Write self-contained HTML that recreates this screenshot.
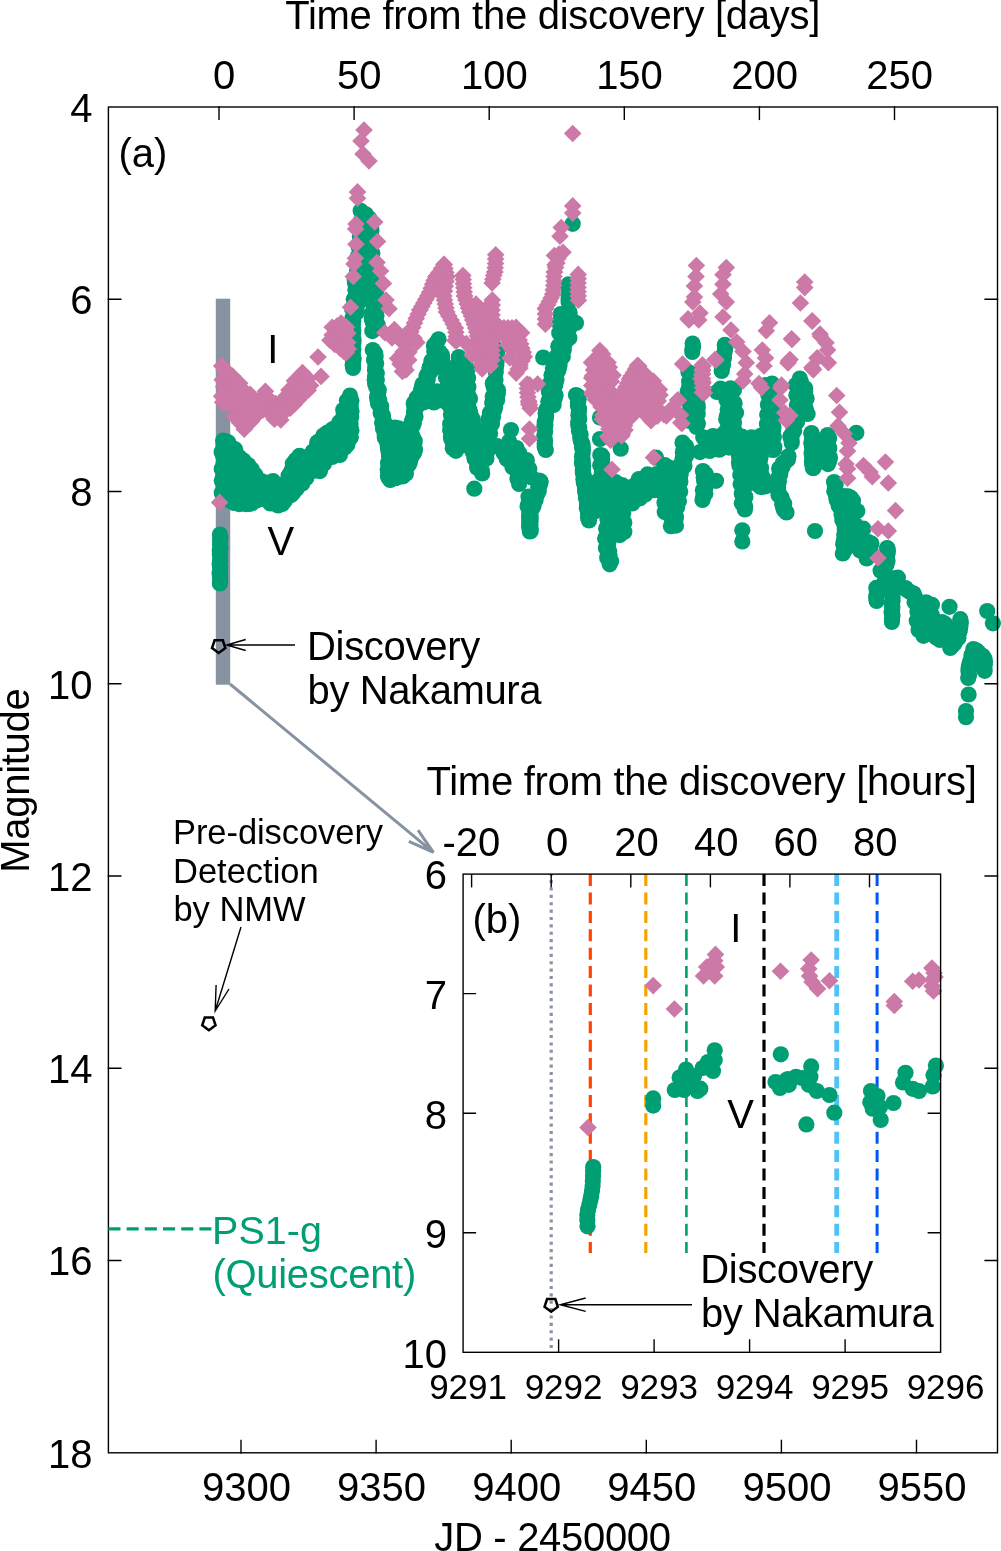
<!DOCTYPE html>
<html><head><meta charset="utf-8"><title>Light curve</title>
<style>html,body{margin:0;padding:0;background:#fff;}svg{display:block;will-change:transform;}text{font-family:"Liberation Sans",sans-serif;fill:#000;}</style></head><body>
<svg width="1001" height="1551" viewBox="0 0 1001 1551">
<rect x="0" y="0" width="1001" height="1551" fill="#fff"/>
<rect x="215.8" y="298.7" width="14.4" height="386.0" fill="#8793a1"/>
<defs><circle id="g" r="8.1" fill="#009e73"/><path id="p" d="M0 -8.8L8.8 0L0 8.8L-8.8 0Z" fill="#cc79a7"/></defs>
<g>
<use href="#g" x="223.1" y="440.5"/><use href="#g" x="222.4" y="493.4"/><use href="#g" x="223.5" y="445.1"/><use href="#g" x="221.6" y="451.9"/><use href="#g" x="223.4" y="457.2"/><use href="#g" x="223.6" y="463.1"/><use href="#g" x="221.7" y="468.9"/><use href="#g" x="223.2" y="475.2"/><use href="#g" x="221.8" y="480.6"/><use href="#g" x="223.5" y="486.2"/><use href="#g" x="221.8" y="492.8"/><use href="#g" x="226.3" y="441.3"/><use href="#g" x="225.8" y="498.0"/><use href="#g" x="225.1" y="445.5"/><use href="#g" x="225.0" y="452.0"/><use href="#g" x="224.9" y="458.4"/><use href="#g" x="225.1" y="464.2"/><use href="#g" x="226.7" y="469.6"/><use href="#g" x="225.3" y="476.4"/><use href="#g" x="225.1" y="483.3"/><use href="#g" x="226.4" y="489.0"/><use href="#g" x="224.9" y="495.4"/><use href="#g" x="228.4" y="442.6"/><use href="#g" x="228.5" y="498.2"/><use href="#g" x="228.6" y="447.0"/><use href="#g" x="228.2" y="452.0"/><use href="#g" x="228.5" y="458.2"/><use href="#g" x="228.8" y="464.4"/><use href="#g" x="229.9" y="470.3"/><use href="#g" x="229.2" y="476.3"/><use href="#g" x="228.4" y="483.2"/><use href="#g" x="229.8" y="488.3"/><use href="#g" x="228.5" y="495.1"/><use href="#g" x="229.5" y="500.3"/><use href="#g" x="232.4" y="448.1"/><use href="#g" x="233.8" y="502.8"/><use href="#g" x="232.9" y="450.3"/><use href="#g" x="232.1" y="455.4"/><use href="#g" x="232.5" y="462.5"/><use href="#g" x="232.6" y="469.0"/><use href="#g" x="233.2" y="475.8"/><use href="#g" x="232.4" y="481.3"/><use href="#g" x="232.2" y="487.8"/><use href="#g" x="233.2" y="493.2"/><use href="#g" x="233.3" y="500.0"/><use href="#g" x="235.2" y="449.4"/><use href="#g" x="235.7" y="502.0"/><use href="#g" x="235.5" y="453.1"/><use href="#g" x="236.3" y="458.8"/><use href="#g" x="235.9" y="463.9"/><use href="#g" x="237.1" y="470.9"/><use href="#g" x="236.6" y="477.3"/><use href="#g" x="235.5" y="483.5"/><use href="#g" x="235.2" y="488.3"/><use href="#g" x="236.6" y="495.3"/><use href="#g" x="235.2" y="502.4"/><use href="#g" x="239.4" y="457.2"/><use href="#g" x="239.0" y="504.1"/><use href="#g" x="238.5" y="461.1"/><use href="#g" x="239.9" y="467.2"/><use href="#g" x="239.9" y="474.1"/><use href="#g" x="240.0" y="480.6"/><use href="#g" x="239.1" y="487.6"/><use href="#g" x="240.2" y="494.1"/><use href="#g" x="239.2" y="500.9"/><use href="#g" x="243.5" y="460.6"/><use href="#g" x="242.9" y="502.2"/><use href="#g" x="242.9" y="465.1"/><use href="#g" x="241.9" y="471.4"/><use href="#g" x="243.7" y="477.7"/><use href="#g" x="243.2" y="484.6"/><use href="#g" x="243.2" y="490.4"/><use href="#g" x="242.6" y="496.6"/><use href="#g" x="241.9" y="503.4"/><use href="#g" x="245.3" y="463.8"/><use href="#g" x="245.7" y="504.1"/><use href="#g" x="245.6" y="467.9"/><use href="#g" x="244.9" y="474.9"/><use href="#g" x="245.0" y="479.8"/><use href="#g" x="244.8" y="486.2"/><use href="#g" x="246.2" y="491.4"/><use href="#g" x="245.2" y="497.8"/><use href="#g" x="248.2" y="465.0"/><use href="#g" x="248.9" y="503.9"/><use href="#g" x="249.2" y="469.7"/><use href="#g" x="249.3" y="476.7"/><use href="#g" x="248.7" y="482.4"/><use href="#g" x="247.8" y="488.0"/><use href="#g" x="249.2" y="494.0"/><use href="#g" x="249.0" y="500.8"/><use href="#g" x="251.9" y="469.6"/><use href="#g" x="251.4" y="503.4"/><use href="#g" x="252.3" y="473.4"/><use href="#g" x="251.7" y="479.4"/><use href="#g" x="253.0" y="486.2"/><use href="#g" x="251.2" y="492.1"/><use href="#g" x="252.8" y="496.9"/><use href="#g" x="252.4" y="501.8"/><use href="#g" x="255.4" y="474.9"/><use href="#g" x="256.4" y="500.6"/><use href="#g" x="255.7" y="478.8"/><use href="#g" x="256.4" y="483.7"/><use href="#g" x="255.1" y="489.1"/><use href="#g" x="256.0" y="494.0"/><use href="#g" x="256.0" y="499.8"/><use href="#g" x="258.8" y="480.8"/><use href="#g" x="258.6" y="499.0"/><use href="#g" x="258.2" y="482.0"/><use href="#g" x="257.2" y="487.2"/><use href="#g" x="258.6" y="493.1"/><use href="#g" x="257.7" y="498.4"/><use href="#g" x="261.3" y="481.0"/><use href="#g" x="261.5" y="496.4"/><use href="#g" x="261.8" y="486.5"/><use href="#g" x="261.9" y="491.5"/><use href="#g" x="262.7" y="483.5"/><use href="#g" x="263.7" y="498.3"/><use href="#g" x="263.2" y="487.9"/><use href="#g" x="264.2" y="494.1"/><use href="#g" x="268.1" y="482.7"/><use href="#g" x="267.2" y="499.3"/><use href="#g" x="267.7" y="486.8"/><use href="#g" x="267.5" y="493.6"/><use href="#g" x="266.7" y="500.1"/><use href="#g" x="270.9" y="483.4"/><use href="#g" x="270.4" y="503.5"/><use href="#g" x="271.5" y="486.8"/><use href="#g" x="270.0" y="492.4"/><use href="#g" x="270.9" y="498.3"/><use href="#g" x="273.1" y="481.2"/><use href="#g" x="272.2" y="502.1"/><use href="#g" x="273.7" y="484.9"/><use href="#g" x="272.8" y="490.2"/><use href="#g" x="272.4" y="496.8"/><use href="#g" x="273.2" y="502.0"/><use href="#g" x="277.9" y="486.7"/><use href="#g" x="278.1" y="505.4"/><use href="#g" x="278.2" y="489.4"/><use href="#g" x="276.7" y="494.4"/><use href="#g" x="276.8" y="500.5"/><use href="#g" x="282.0" y="485.5"/><use href="#g" x="281.5" y="503.1"/><use href="#g" x="282.0" y="490.1"/><use href="#g" x="280.8" y="497.0"/><use href="#g" x="282.3" y="503.9"/><use href="#g" x="285.0" y="483.5"/><use href="#g" x="284.9" y="500.4"/><use href="#g" x="285.1" y="487.7"/><use href="#g" x="285.8" y="492.5"/><use href="#g" x="284.6" y="498.6"/><use href="#g" x="288.6" y="475.8"/><use href="#g" x="287.4" y="495.5"/><use href="#g" x="289.2" y="480.4"/><use href="#g" x="287.8" y="487.4"/><use href="#g" x="287.5" y="493.3"/><use href="#g" x="291.4" y="471.6"/><use href="#g" x="290.8" y="495.0"/><use href="#g" x="290.2" y="473.3"/><use href="#g" x="291.7" y="479.5"/><use href="#g" x="291.4" y="484.6"/><use href="#g" x="290.2" y="489.5"/><use href="#g" x="291.2" y="494.8"/><use href="#g" x="292.8" y="463.8"/><use href="#g" x="293.3" y="492.4"/><use href="#g" x="292.3" y="469.1"/><use href="#g" x="292.6" y="475.2"/><use href="#g" x="293.1" y="480.4"/><use href="#g" x="292.8" y="486.3"/><use href="#g" x="293.1" y="492.1"/><use href="#g" x="295.7" y="460.1"/><use href="#g" x="296.6" y="488.8"/><use href="#g" x="297.0" y="463.1"/><use href="#g" x="297.0" y="469.3"/><use href="#g" x="296.8" y="474.7"/><use href="#g" x="297.1" y="481.4"/><use href="#g" x="296.0" y="487.0"/><use href="#g" x="299.5" y="455.8"/><use href="#g" x="298.0" y="485.5"/><use href="#g" x="298.2" y="461.2"/><use href="#g" x="299.3" y="466.2"/><use href="#g" x="299.3" y="472.0"/><use href="#g" x="298.5" y="477.1"/><use href="#g" x="297.7" y="483.6"/><use href="#g" x="301.7" y="460.1"/><use href="#g" x="302.2" y="483.6"/><use href="#g" x="301.3" y="461.2"/><use href="#g" x="301.3" y="467.9"/><use href="#g" x="300.7" y="474.3"/><use href="#g" x="300.5" y="479.3"/><use href="#g" x="304.1" y="458.9"/><use href="#g" x="304.0" y="479.4"/><use href="#g" x="303.4" y="462.9"/><use href="#g" x="304.7" y="468.1"/><use href="#g" x="304.8" y="475.3"/><use href="#g" x="303.1" y="480.4"/><use href="#g" x="305.9" y="458.6"/><use href="#g" x="306.3" y="478.0"/><use href="#g" x="306.5" y="461.8"/><use href="#g" x="306.7" y="466.6"/><use href="#g" x="305.7" y="473.5"/><use href="#g" x="309.9" y="455.5"/><use href="#g" x="309.2" y="472.3"/><use href="#g" x="309.4" y="459.5"/><use href="#g" x="310.2" y="464.3"/><use href="#g" x="309.8" y="471.0"/><use href="#g" x="312.8" y="451.5"/><use href="#g" x="312.7" y="471.0"/><use href="#g" x="313.5" y="455.1"/><use href="#g" x="312.0" y="461.8"/><use href="#g" x="313.0" y="468.8"/><use href="#g" x="317.2" y="442.5"/><use href="#g" x="317.1" y="468.2"/><use href="#g" x="316.9" y="447.9"/><use href="#g" x="316.8" y="453.7"/><use href="#g" x="316.0" y="458.7"/><use href="#g" x="315.4" y="464.6"/><use href="#g" x="316.6" y="470.2"/><use href="#g" x="319.1" y="441.3"/><use href="#g" x="319.9" y="471.1"/><use href="#g" x="319.9" y="442.8"/><use href="#g" x="319.7" y="449.0"/><use href="#g" x="320.6" y="454.7"/><use href="#g" x="320.0" y="461.1"/><use href="#g" x="320.6" y="467.7"/><use href="#g" x="323.3" y="435.5"/><use href="#g" x="323.5" y="463.6"/><use href="#g" x="322.2" y="440.1"/><use href="#g" x="322.8" y="445.4"/><use href="#g" x="322.6" y="450.4"/><use href="#g" x="323.2" y="457.4"/><use href="#g" x="324.0" y="463.4"/><use href="#g" x="326.9" y="432.9"/><use href="#g" x="326.5" y="458.5"/><use href="#g" x="325.4" y="438.1"/><use href="#g" x="325.6" y="445.1"/><use href="#g" x="325.6" y="451.0"/><use href="#g" x="326.5" y="457.0"/><use href="#g" x="330.7" y="430.9"/><use href="#g" x="329.6" y="456.3"/><use href="#g" x="329.5" y="436.0"/><use href="#g" x="330.1" y="441.5"/><use href="#g" x="329.3" y="447.6"/><use href="#g" x="329.4" y="454.1"/><use href="#g" x="332.4" y="429.4"/><use href="#g" x="332.2" y="457.0"/><use href="#g" x="332.7" y="434.7"/><use href="#g" x="333.4" y="441.6"/><use href="#g" x="333.9" y="446.5"/><use href="#g" x="332.0" y="453.6"/><use href="#g" x="336.6" y="426.9"/><use href="#g" x="335.2" y="454.6"/><use href="#g" x="336.1" y="432.7"/><use href="#g" x="336.6" y="438.6"/><use href="#g" x="335.9" y="445.4"/><use href="#g" x="335.9" y="450.5"/><use href="#g" x="339.2" y="422.4"/><use href="#g" x="339.9" y="454.9"/><use href="#g" x="339.7" y="426.2"/><use href="#g" x="339.7" y="432.6"/><use href="#g" x="340.0" y="438.0"/><use href="#g" x="340.4" y="443.8"/><use href="#g" x="340.8" y="449.9"/><use href="#g" x="343.2" y="410.0"/><use href="#g" x="344.8" y="447.5"/><use href="#g" x="343.7" y="415.1"/><use href="#g" x="344.4" y="420.5"/><use href="#g" x="344.2" y="426.7"/><use href="#g" x="344.5" y="433.0"/><use href="#g" x="343.5" y="438.3"/><use href="#g" x="344.8" y="445.4"/><use href="#g" x="346.9" y="400.7"/><use href="#g" x="347.4" y="444.5"/><use href="#g" x="348.1" y="405.1"/><use href="#g" x="347.9" y="410.1"/><use href="#g" x="347.0" y="415.1"/><use href="#g" x="347.9" y="421.5"/><use href="#g" x="347.6" y="427.8"/><use href="#g" x="347.3" y="433.8"/><use href="#g" x="348.3" y="439.4"/><use href="#g" x="350.0" y="395.5"/><use href="#g" x="350.1" y="438.1"/><use href="#g" x="351.4" y="400.5"/><use href="#g" x="350.7" y="405.9"/><use href="#g" x="351.5" y="411.3"/><use href="#g" x="351.2" y="417.0"/><use href="#g" x="350.6" y="424.1"/><use href="#g" x="351.4" y="430.3"/><use href="#g" x="350.8" y="437.3"/><use href="#g" x="387.7" y="427.0"/><use href="#g" x="388.5" y="477.6"/><use href="#g" x="387.4" y="431.3"/><use href="#g" x="388.6" y="436.9"/><use href="#g" x="387.3" y="442.6"/><use href="#g" x="388.2" y="449.1"/><use href="#g" x="389.0" y="456.1"/><use href="#g" x="388.0" y="463.1"/><use href="#g" x="387.7" y="469.9"/><use href="#g" x="387.9" y="475.4"/><use href="#g" x="391.3" y="428.0"/><use href="#g" x="390.2" y="480.0"/><use href="#g" x="390.3" y="431.7"/><use href="#g" x="390.3" y="437.4"/><use href="#g" x="390.7" y="442.7"/><use href="#g" x="390.6" y="449.4"/><use href="#g" x="390.7" y="456.2"/><use href="#g" x="391.0" y="461.5"/><use href="#g" x="390.1" y="468.4"/><use href="#g" x="390.6" y="473.2"/><use href="#g" x="390.7" y="479.3"/><use href="#g" x="394.7" y="427.6"/><use href="#g" x="395.1" y="478.2"/><use href="#g" x="395.0" y="432.5"/><use href="#g" x="393.6" y="437.5"/><use href="#g" x="395.2" y="444.1"/><use href="#g" x="394.7" y="449.1"/><use href="#g" x="394.9" y="454.2"/><use href="#g" x="393.9" y="460.6"/><use href="#g" x="395.0" y="465.9"/><use href="#g" x="395.0" y="472.0"/><use href="#g" x="394.1" y="477.7"/><use href="#g" x="396.9" y="429.9"/><use href="#g" x="397.3" y="477.6"/><use href="#g" x="396.7" y="433.5"/><use href="#g" x="397.2" y="440.3"/><use href="#g" x="397.4" y="447.1"/><use href="#g" x="397.6" y="454.0"/><use href="#g" x="397.1" y="461.0"/><use href="#g" x="397.3" y="467.1"/><use href="#g" x="396.7" y="473.8"/><use href="#g" x="398.5" y="428.3"/><use href="#g" x="399.7" y="474.6"/><use href="#g" x="398.6" y="432.8"/><use href="#g" x="399.1" y="438.1"/><use href="#g" x="400.2" y="443.6"/><use href="#g" x="398.9" y="448.6"/><use href="#g" x="399.5" y="453.7"/><use href="#g" x="398.6" y="460.3"/><use href="#g" x="399.2" y="465.3"/><use href="#g" x="400.1" y="471.5"/><use href="#g" x="398.5" y="476.4"/><use href="#g" x="402.0" y="431.7"/><use href="#g" x="403.0" y="476.3"/><use href="#g" x="402.0" y="436.0"/><use href="#g" x="402.1" y="441.3"/><use href="#g" x="403.1" y="446.5"/><use href="#g" x="402.7" y="452.0"/><use href="#g" x="402.5" y="458.8"/><use href="#g" x="403.3" y="464.2"/><use href="#g" x="402.2" y="471.2"/><use href="#g" x="405.2" y="433.3"/><use href="#g" x="404.8" y="471.1"/><use href="#g" x="405.5" y="438.8"/><use href="#g" x="405.8" y="444.9"/><use href="#g" x="406.7" y="450.3"/><use href="#g" x="405.2" y="456.7"/><use href="#g" x="405.7" y="461.5"/><use href="#g" x="406.3" y="467.2"/><use href="#g" x="405.9" y="473.7"/><use href="#g" x="408.6" y="435.6"/><use href="#g" x="408.8" y="464.5"/><use href="#g" x="409.3" y="440.3"/><use href="#g" x="410.3" y="446.6"/><use href="#g" x="409.4" y="452.1"/><use href="#g" x="409.8" y="457.2"/><use href="#g" x="409.9" y="462.0"/><use href="#g" x="412.7" y="436.4"/><use href="#g" x="411.3" y="457.1"/><use href="#g" x="411.3" y="441.7"/><use href="#g" x="412.0" y="447.7"/><use href="#g" x="412.3" y="454.8"/><use href="#g" x="414.7" y="440.8"/><use href="#g" x="414.1" y="452.8"/><use href="#g" x="414.3" y="443.7"/><use href="#g" x="415.0" y="449.8"/><use href="#g" x="219.9" y="534.5"/><use href="#g" x="220.4" y="537.8"/><use href="#g" x="220.1" y="541.0"/><use href="#g" x="220.0" y="544.3"/><use href="#g" x="220.5" y="547.6"/><use href="#g" x="219.8" y="550.8"/><use href="#g" x="219.8" y="554.1"/><use href="#g" x="220.2" y="557.4"/><use href="#g" x="220.1" y="560.6"/><use href="#g" x="219.6" y="563.9"/><use href="#g" x="220.1" y="567.2"/><use href="#g" x="220.0" y="570.4"/><use href="#g" x="219.6" y="573.7"/><use href="#g" x="220.1" y="577.0"/><use href="#g" x="220.1" y="580.2"/><use href="#g" x="219.9" y="583.5"/><use href="#g" x="352.5" y="318.0"/><use href="#g" x="353.3" y="321.1"/><use href="#g" x="352.9" y="324.2"/><use href="#g" x="352.7" y="327.4"/><use href="#g" x="353.4" y="330.5"/><use href="#g" x="353.1" y="333.6"/><use href="#g" x="353.0" y="336.8"/><use href="#g" x="353.6" y="339.9"/><use href="#g" x="353.4" y="343.0"/><use href="#g" x="352.7" y="346.1"/><use href="#g" x="353.3" y="349.2"/><use href="#g" x="352.7" y="352.4"/><use href="#g" x="352.9" y="355.5"/><use href="#g" x="353.7" y="358.6"/><use href="#g" x="353.2" y="361.8"/><use href="#g" x="352.6" y="364.9"/><use href="#g" x="353.1" y="368.0"/><use href="#g" x="360.7" y="210.8"/><use href="#g" x="365.8" y="214.3"/><use href="#g" x="364.2" y="217.4"/><use href="#g" x="361.0" y="220.4"/><use href="#g" x="365.5" y="223.8"/><use href="#g" x="360.6" y="226.7"/><use href="#g" x="359.9" y="229.8"/><use href="#g" x="365.0" y="230.2"/><use href="#g" x="361.6" y="233.2"/><use href="#g" x="359.9" y="236.4"/><use href="#g" x="365.2" y="240.4"/><use href="#g" x="361.6" y="243.4"/><use href="#g" x="358.6" y="246.4"/><use href="#g" x="362.7" y="250.2"/><use href="#g" x="361.7" y="253.5"/><use href="#g" x="357.8" y="256.4"/><use href="#g" x="363.1" y="260.4"/><use href="#g" x="358.1" y="259.9"/><use href="#g" x="357.9" y="263.2"/><use href="#g" x="362.3" y="266.9"/><use href="#g" x="357.4" y="269.9"/><use href="#g" x="356.7" y="273.2"/><use href="#g" x="361.3" y="276.9"/><use href="#g" x="354.7" y="279.7"/><use href="#g" x="355.0" y="283.1"/><use href="#g" x="360.3" y="286.9"/><use href="#g" x="355.7" y="289.9"/><use href="#g" x="355.5" y="289.9"/><use href="#g" x="359.9" y="293.4"/><use href="#g" x="359.3" y="296.5"/><use href="#g" x="353.8" y="299.2"/><use href="#g" x="358.6" y="302.8"/><use href="#g" x="356.4" y="305.8"/><use href="#g" x="352.1" y="308.6"/><use href="#g" x="357.1" y="312.2"/><use href="#g" x="363.8" y="216.4"/><use href="#g" x="369.4" y="218.5"/><use href="#g" x="369.7" y="221.6"/><use href="#g" x="366.2" y="225.2"/><use href="#g" x="371.2" y="227.5"/><use href="#g" x="371.5" y="230.5"/><use href="#g" x="366.5" y="234.4"/><use href="#g" x="371.7" y="236.6"/><use href="#g" x="370.3" y="239.9"/><use href="#g" x="367.1" y="240.2"/><use href="#g" x="373.1" y="243.1"/><use href="#g" x="370.7" y="246.7"/><use href="#g" x="367.4" y="250.3"/><use href="#g" x="372.3" y="253.2"/><use href="#g" x="369.5" y="256.8"/><use href="#g" x="367.7" y="260.3"/><use href="#g" x="373.6" y="263.2"/><use href="#g" x="372.2" y="266.7"/><use href="#g" x="369.4" y="270.3"/><use href="#g" x="375.0" y="269.8"/><use href="#g" x="372.2" y="273.4"/><use href="#g" x="371.6" y="276.8"/><use href="#g" x="377.0" y="279.7"/><use href="#g" x="374.7" y="283.2"/><use href="#g" x="372.7" y="286.7"/><use href="#g" x="376.6" y="289.8"/><use href="#g" x="374.9" y="293.3"/><use href="#g" x="371.5" y="296.9"/><use href="#g" x="377.7" y="299.8"/><use href="#g" x="373.7" y="300.0"/><use href="#g" x="373.1" y="303.1"/><use href="#g" x="378.3" y="306.1"/><use href="#g" x="375.0" y="309.3"/><use href="#g" x="372.4" y="312.5"/><use href="#g" x="376.5" y="315.5"/><use href="#g" x="371.8" y="318.7"/><use href="#g" x="372.6" y="321.8"/><use href="#g" x="377.6" y="324.7"/><use href="#g" x="377.8" y="327.8"/><use href="#g" x="372.3" y="331.1"/><use href="#g" x="361.0" y="228.0"/><use href="#g" x="369.4" y="231.1"/><use href="#g" x="365.5" y="234.2"/><use href="#g" x="360.6" y="237.4"/><use href="#g" x="369.3" y="240.5"/><use href="#g" x="360.9" y="243.7"/><use href="#g" x="361.1" y="246.8"/><use href="#g" x="368.9" y="249.8"/><use href="#g" x="368.0" y="253.0"/><use href="#g" x="359.5" y="256.2"/><use href="#g" x="369.0" y="259.2"/><use href="#g" x="361.1" y="262.5"/><use href="#g" x="361.7" y="265.6"/><use href="#g" x="369.4" y="268.6"/><use href="#g" x="361.1" y="271.9"/><use href="#g" x="360.2" y="275.0"/><use href="#g" x="368.4" y="278.0"/><use href="#g" x="368.1" y="281.2"/><use href="#g" x="360.6" y="284.4"/><use href="#g" x="368.8" y="287.4"/><use href="#g" x="368.3" y="290.6"/><use href="#g" x="360.8" y="293.8"/><use href="#g" x="370.2" y="296.8"/><use href="#g" x="361.8" y="300.0"/><use href="#g" x="372.8" y="350.1"/><use href="#g" x="375.2" y="353.3"/><use href="#g" x="375.6" y="356.7"/><use href="#g" x="374.0" y="360.1"/><use href="#g" x="376.1" y="363.3"/><use href="#g" x="375.4" y="366.7"/><use href="#g" x="375.0" y="370.1"/><use href="#g" x="376.8" y="373.3"/><use href="#g" x="375.0" y="376.7"/><use href="#g" x="374.7" y="380.1"/><use href="#g" x="376.8" y="380.0"/><use href="#g" x="375.1" y="383.6"/><use href="#g" x="376.2" y="386.9"/><use href="#g" x="378.8" y="389.9"/><use href="#g" x="378.0" y="393.4"/><use href="#g" x="377.0" y="397.0"/><use href="#g" x="379.2" y="400.0"/><use href="#g" x="377.6" y="400.4"/><use href="#g" x="378.1" y="403.6"/><use href="#g" x="381.2" y="406.2"/><use href="#g" x="380.9" y="409.5"/><use href="#g" x="380.6" y="412.9"/><use href="#g" x="383.0" y="415.6"/><use href="#g" x="383.2" y="418.9"/><use href="#g" x="382.1" y="422.4"/><use href="#g" x="384.1" y="422.0"/><use href="#g" x="383.6" y="425.2"/><use href="#g" x="383.0" y="428.5"/><use href="#g" x="385.4" y="431.3"/><use href="#g" x="384.7" y="434.6"/><use href="#g" x="384.8" y="437.8"/><use href="#g" x="387.4" y="440.6"/><use href="#g" x="387.6" y="443.7"/><use href="#g" x="387.8" y="446.9"/><use href="#g" x="390.5" y="449.6"/><use href="#g" x="388.5" y="449.9"/><use href="#g" x="388.8" y="453.1"/><use href="#g" x="391.2" y="455.9"/><use href="#g" x="391.6" y="459.0"/><use href="#g" x="390.1" y="462.5"/><use href="#g" x="392.2" y="465.3"/><use href="#g" x="392.1" y="468.6"/><use href="#g" x="390.8" y="472.0"/><use href="#g" x="392.4" y="474.9"/><use href="#g" x="406.2" y="441.0"/><use href="#g" x="405.1" y="436.9"/><use href="#g" x="407.1" y="434.2"/><use href="#g" x="410.1" y="432.0"/><use href="#g" x="408.9" y="427.8"/><use href="#g" x="412.7" y="425.9"/><use href="#g" x="413.9" y="422.8"/><use href="#g" x="411.7" y="421.9"/><use href="#g" x="412.7" y="419.0"/><use href="#g" x="415.5" y="416.5"/><use href="#g" x="413.9" y="413.0"/><use href="#g" x="414.3" y="409.9"/><use href="#g" x="416.6" y="407.3"/><use href="#g" x="413.7" y="403.5"/><use href="#g" x="414.3" y="403.1"/><use href="#g" x="417.2" y="401.2"/><use href="#g" x="416.8" y="397.7"/><use href="#g" x="419.2" y="395.6"/><use href="#g" x="422.4" y="393.9"/><use href="#g" x="421.1" y="389.9"/><use href="#g" x="422.0" y="387.0"/><use href="#g" x="424.4" y="388.1"/><use href="#g" x="422.5" y="384.3"/><use href="#g" x="425.9" y="382.3"/><use href="#g" x="427.7" y="379.7"/><use href="#g" x="426.5" y="376.0"/><use href="#g" x="428.1" y="373.4"/><use href="#g" x="431.0" y="371.2"/><use href="#g" x="429.6" y="367.5"/><use href="#g" x="429.8" y="367.6"/><use href="#g" x="432.7" y="365.0"/><use href="#g" x="431.4" y="361.1"/><use href="#g" x="434.8" y="358.7"/><use href="#g" x="436.0" y="355.5"/><use href="#g" x="434.3" y="351.5"/><use href="#g" x="434.8" y="351.9"/><use href="#g" x="436.2" y="348.8"/><use href="#g" x="433.9" y="345.5"/><use href="#g" x="436.6" y="342.4"/><use href="#g" x="438.6" y="339.3"/><use href="#g" x="439.5" y="352.1"/><use href="#g" x="441.9" y="354.9"/><use href="#g" x="442.1" y="358.3"/><use href="#g" x="440.8" y="362.0"/><use href="#g" x="443.7" y="364.7"/><use href="#g" x="443.6" y="368.1"/><use href="#g" x="443.4" y="368.1"/><use href="#g" x="445.9" y="371.0"/><use href="#g" x="446.7" y="374.1"/><use href="#g" x="446.0" y="377.6"/><use href="#g" x="448.2" y="380.5"/><use href="#g" x="448.0" y="383.8"/><use href="#g" x="424.0" y="402.3"/><use href="#g" x="427.3" y="393.1"/><use href="#g" x="430.6" y="394.9"/><use href="#g" x="433.9" y="402.4"/><use href="#g" x="437.1" y="391.4"/><use href="#g" x="440.4" y="394.1"/><use href="#g" x="443.7" y="400.8"/><use href="#g" x="447.0" y="392.2"/><use href="#g" x="450.3" y="397.8"/><use href="#g" x="453.6" y="403.3"/><use href="#g" x="456.9" y="392.2"/><use href="#g" x="460.1" y="394.6"/><use href="#g" x="463.4" y="403.6"/><use href="#g" x="466.7" y="392.1"/><use href="#g" x="470.0" y="398.5"/><use href="#g" x="453.3" y="392.4"/><use href="#g" x="450.8" y="388.5"/><use href="#g" x="452.8" y="386.0"/><use href="#g" x="454.8" y="383.5"/><use href="#g" x="452.6" y="379.7"/><use href="#g" x="455.8" y="377.6"/><use href="#g" x="457.5" y="375.0"/><use href="#g" x="455.5" y="371.2"/><use href="#g" x="457.3" y="371.9"/><use href="#g" x="459.3" y="369.2"/><use href="#g" x="456.8" y="365.7"/><use href="#g" x="458.3" y="363.0"/><use href="#g" x="460.9" y="360.5"/><use href="#g" x="458.8" y="357.0"/><use href="#g" x="463.4" y="366.1"/><use href="#g" x="467.7" y="368.9"/><use href="#g" x="464.0" y="372.1"/><use href="#g" x="464.2" y="375.1"/><use href="#g" x="468.1" y="377.9"/><use href="#g" x="465.5" y="381.0"/><use href="#g" x="463.9" y="384.1"/><use href="#g" x="468.4" y="386.9"/><use href="#g" x="465.1" y="390.0"/><use href="#g" x="463.7" y="390.2"/><use href="#g" x="467.6" y="393.2"/><use href="#g" x="464.2" y="396.9"/><use href="#g" x="463.7" y="400.3"/><use href="#g" x="468.1" y="403.3"/><use href="#g" x="466.5" y="406.8"/><use href="#g" x="465.0" y="410.3"/><use href="#g" x="469.4" y="409.8"/><use href="#g" x="470.2" y="412.9"/><use href="#g" x="467.8" y="416.5"/><use href="#g" x="472.6" y="418.9"/><use href="#g" x="472.8" y="422.1"/><use href="#g" x="470.1" y="425.8"/><use href="#g" x="474.6" y="428.3"/><use href="#g" x="470.7" y="432.2"/><use href="#g" x="470.3" y="432.3"/><use href="#g" x="474.8" y="434.9"/><use href="#g" x="473.8" y="438.5"/><use href="#g" x="471.0" y="442.3"/><use href="#g" x="476.0" y="444.8"/><use href="#g" x="476.0" y="448.2"/><use href="#g" x="472.8" y="452.2"/><use href="#g" x="477.6" y="454.7"/><use href="#g" x="474.4" y="455.3"/><use href="#g" x="474.5" y="458.5"/><use href="#g" x="479.3" y="461.0"/><use href="#g" x="478.2" y="464.4"/><use href="#g" x="477.1" y="467.8"/><use href="#g" x="481.8" y="470.3"/><use href="#g" x="482.2" y="473.5"/><use href="#g" x="449.1" y="405.1"/><use href="#g" x="451.5" y="408.0"/><use href="#g" x="452.1" y="411.1"/><use href="#g" x="450.9" y="414.4"/><use href="#g" x="452.6" y="417.4"/><use href="#g" x="451.8" y="420.6"/><use href="#g" x="450.1" y="423.9"/><use href="#g" x="452.0" y="426.9"/><use href="#g" x="450.5" y="430.1"/><use href="#g" x="450.3" y="430.2"/><use href="#g" x="452.3" y="433.0"/><use href="#g" x="451.0" y="436.2"/><use href="#g" x="451.3" y="439.2"/><use href="#g" x="453.3" y="442.0"/><use href="#g" x="453.5" y="445.0"/><use href="#g" x="452.8" y="448.2"/><use href="#g" x="455.9" y="450.8"/><use href="#g" x="459.2" y="415.4"/><use href="#g" x="465.2" y="418.0"/><use href="#g" x="465.7" y="421.3"/><use href="#g" x="461.5" y="425.3"/><use href="#g" x="467.1" y="427.9"/><use href="#g" x="462.4" y="431.9"/><use href="#g" x="463.7" y="435.1"/><use href="#g" x="469.0" y="437.8"/><use href="#g" x="467.7" y="441.4"/><use href="#g" x="464.6" y="445.2"/><use href="#g" x="486.4" y="458.4"/><use href="#g" x="482.9" y="454.7"/><use href="#g" x="486.6" y="452.3"/><use href="#g" x="488.6" y="449.5"/><use href="#g" x="484.7" y="445.8"/><use href="#g" x="488.4" y="443.3"/><use href="#g" x="488.1" y="440.2"/><use href="#g" x="484.0" y="439.4"/><use href="#g" x="484.3" y="436.0"/><use href="#g" x="490.0" y="433.7"/><use href="#g" x="487.2" y="429.6"/><use href="#g" x="489.7" y="426.7"/><use href="#g" x="492.0" y="423.7"/><use href="#g" x="488.3" y="419.5"/><use href="#g" x="489.7" y="419.8"/><use href="#g" x="493.0" y="416.9"/><use href="#g" x="489.9" y="413.0"/><use href="#g" x="494.3" y="410.3"/><use href="#g" x="495.1" y="407.0"/><use href="#g" x="492.2" y="403.1"/><use href="#g" x="495.1" y="400.2"/><use href="#g" x="497.1" y="400.2"/><use href="#g" x="492.7" y="396.6"/><use href="#g" x="497.8" y="393.5"/><use href="#g" x="498.0" y="390.2"/><use href="#g" x="493.6" y="386.6"/><use href="#g" x="492.8" y="383.2"/><use href="#g" x="495.5" y="380.0"/><use href="#g" x="495.8" y="372.0"/><use href="#g" x="495.2" y="368.7"/><use href="#g" x="496.3" y="365.5"/><use href="#g" x="496.5" y="362.2"/><use href="#g" x="495.8" y="358.8"/><use href="#g" x="496.4" y="355.6"/><use href="#g" x="497.2" y="352.3"/><use href="#g" x="496.3" y="349.0"/><use href="#g" x="497.1" y="446.1"/><use href="#g" x="509.2" y="441.5"/><use href="#g" x="505.9" y="447.7"/><use href="#g" x="503.6" y="453.1"/><use href="#g" x="516.5" y="448.1"/><use href="#g" x="513.5" y="453.9"/><use href="#g" x="506.7" y="459.1"/><use href="#g" x="519.5" y="453.4"/><use href="#g" x="517.8" y="458.8"/><use href="#g" x="512.4" y="467.1"/><use href="#g" x="526.8" y="460.2"/><use href="#g" x="522.2" y="467.8"/><use href="#g" x="517.3" y="469.3"/><use href="#g" x="529.3" y="468.9"/><use href="#g" x="524.3" y="473.4"/><use href="#g" x="517.4" y="478.4"/><use href="#g" x="531.6" y="477.4"/><use href="#g" x="519.1" y="484.0"/><use href="#g" x="528.5" y="496.7"/><use href="#g" x="529.8" y="499.8"/><use href="#g" x="528.6" y="503.0"/><use href="#g" x="527.6" y="506.2"/><use href="#g" x="529.3" y="509.3"/><use href="#g" x="529.7" y="512.5"/><use href="#g" x="529.3" y="515.7"/><use href="#g" x="530.7" y="518.8"/><use href="#g" x="529.2" y="522.0"/><use href="#g" x="529.1" y="525.2"/><use href="#g" x="530.6" y="528.3"/><use href="#g" x="529.9" y="531.5"/><use href="#g" x="530.7" y="531.0"/><use href="#g" x="529.3" y="527.8"/><use href="#g" x="530.4" y="524.6"/><use href="#g" x="530.5" y="521.4"/><use href="#g" x="529.2" y="518.2"/><use href="#g" x="529.3" y="515.0"/><use href="#g" x="530.5" y="515.2"/><use href="#g" x="530.1" y="511.7"/><use href="#g" x="531.9" y="509.0"/><use href="#g" x="533.4" y="506.1"/><use href="#g" x="533.3" y="502.8"/><use href="#g" x="534.9" y="500.0"/><use href="#g" x="535.6" y="500.1"/><use href="#g" x="535.5" y="496.8"/><use href="#g" x="537.3" y="493.9"/><use href="#g" x="538.8" y="490.9"/><use href="#g" x="538.2" y="487.5"/><use href="#g" x="539.9" y="484.5"/><use href="#g" x="540.7" y="481.4"/><use href="#g" x="545.8" y="450.0"/><use href="#g" x="544.7" y="446.9"/><use href="#g" x="544.7" y="443.8"/><use href="#g" x="545.1" y="440.6"/><use href="#g" x="544.2" y="437.5"/><use href="#g" x="544.5" y="434.4"/><use href="#g" x="545.1" y="431.2"/><use href="#g" x="544.3" y="428.1"/><use href="#g" x="544.6" y="425.0"/><use href="#g" x="545.4" y="425.0"/><use href="#g" x="544.7" y="422.0"/><use href="#g" x="545.8" y="419.0"/><use href="#g" x="546.1" y="416.0"/><use href="#g" x="545.6" y="413.0"/><use href="#g" x="546.1" y="410.0"/><use href="#g" x="553.6" y="405.1"/><use href="#g" x="548.3" y="401.5"/><use href="#g" x="554.6" y="398.4"/><use href="#g" x="555.6" y="395.2"/><use href="#g" x="548.8" y="391.5"/><use href="#g" x="553.7" y="388.4"/><use href="#g" x="555.3" y="385.1"/><use href="#g" x="549.4" y="384.3"/><use href="#g" x="551.6" y="381.6"/><use href="#g" x="556.5" y="379.5"/><use href="#g" x="551.5" y="375.3"/><use href="#g" x="552.9" y="372.5"/><use href="#g" x="558.2" y="370.4"/><use href="#g" x="552.9" y="368.9"/><use href="#g" x="558.9" y="367.9"/><use href="#g" x="559.6" y="365.0"/><use href="#g" x="555.0" y="360.2"/><use href="#g" x="560.7" y="359.0"/><use href="#g" x="562.8" y="356.6"/><use href="#g" x="557.0" y="355.7"/><use href="#g" x="559.9" y="352.7"/><use href="#g" x="563.8" y="349.8"/><use href="#g" x="558.3" y="346.2"/><use href="#g" x="564.6" y="343.4"/><use href="#g" x="564.3" y="340.1"/><use href="#g" x="569.4" y="337.9"/><use href="#g" x="559.2" y="333.1"/><use href="#g" x="563.8" y="330.6"/><use href="#g" x="569.4" y="328.3"/><use href="#g" x="559.6" y="323.5"/><use href="#g" x="560.3" y="320.5"/><use href="#g" x="571.1" y="319.0"/><use href="#g" x="560.8" y="314.1"/><use href="#g" x="569.5" y="312.3"/><use href="#g" x="568.4" y="284.4"/><use href="#g" x="568.4" y="287.3"/><use href="#g" x="568.6" y="290.3"/><use href="#g" x="568.7" y="293.2"/><use href="#g" x="568.7" y="296.1"/><use href="#g" x="568.6" y="299.1"/><use href="#g" x="568.6" y="302.0"/><use href="#g" x="577.7" y="396.0"/><use href="#g" x="578.7" y="399.2"/><use href="#g" x="577.9" y="402.4"/><use href="#g" x="577.9" y="405.6"/><use href="#g" x="579.0" y="408.8"/><use href="#g" x="578.8" y="412.0"/><use href="#g" x="578.4" y="415.2"/><use href="#g" x="579.3" y="418.4"/><use href="#g" x="578.3" y="421.6"/><use href="#g" x="578.2" y="424.8"/><use href="#g" x="579.2" y="428.0"/><use href="#g" x="578.9" y="428.0"/><use href="#g" x="579.0" y="431.3"/><use href="#g" x="580.6" y="434.2"/><use href="#g" x="580.2" y="437.6"/><use href="#g" x="580.8" y="440.7"/><use href="#g" x="582.3" y="443.7"/><use href="#g" x="582.8" y="446.9"/><use href="#g" x="581.9" y="447.0"/><use href="#g" x="582.9" y="450.2"/><use href="#g" x="582.6" y="453.4"/><use href="#g" x="582.0" y="456.6"/><use href="#g" x="582.7" y="459.8"/><use href="#g" x="582.7" y="463.0"/><use href="#g" x="581.9" y="463.0"/><use href="#g" x="583.1" y="466.2"/><use href="#g" x="582.8" y="469.5"/><use href="#g" x="582.8" y="472.7"/><use href="#g" x="583.9" y="475.9"/><use href="#g" x="583.4" y="479.2"/><use href="#g" x="583.8" y="482.4"/><use href="#g" x="585.0" y="485.5"/><use href="#g" x="585.0" y="488.8"/><use href="#g" x="585.2" y="492.0"/><use href="#g" x="586.0" y="491.9"/><use href="#g" x="586.0" y="495.1"/><use href="#g" x="586.0" y="498.3"/><use href="#g" x="587.1" y="501.4"/><use href="#g" x="587.1" y="504.6"/><use href="#g" x="586.8" y="507.9"/><use href="#g" x="588.0" y="510.9"/><use href="#g" x="588.1" y="514.1"/><use href="#g" x="588.0" y="517.4"/><use href="#g" x="589.0" y="520.5"/><use href="#g" x="600.3" y="455.1"/><use href="#g" x="602.0" y="458.3"/><use href="#g" x="602.1" y="461.7"/><use href="#g" x="600.2" y="465.2"/><use href="#g" x="602.3" y="468.4"/><use href="#g" x="601.9" y="471.7"/><use href="#g" x="601.6" y="475.1"/><use href="#g" x="603.2" y="475.0"/><use href="#g" x="602.5" y="478.2"/><use href="#g" x="603.6" y="481.1"/><use href="#g" x="606.1" y="483.7"/><use href="#g" x="606.5" y="486.8"/><use href="#g" x="604.8" y="490.2"/><use href="#g" x="604.7" y="480.0"/><use href="#g" x="608.9" y="483.2"/><use href="#g" x="607.9" y="486.5"/><use href="#g" x="606.0" y="489.7"/><use href="#g" x="609.5" y="493.0"/><use href="#g" x="608.2" y="496.2"/><use href="#g" x="606.6" y="499.5"/><use href="#g" x="609.4" y="502.7"/><use href="#g" x="609.2" y="505.9"/><use href="#g" x="605.3" y="509.2"/><use href="#g" x="608.9" y="512.4"/><use href="#g" x="608.8" y="515.7"/><use href="#g" x="607.4" y="518.9"/><use href="#g" x="610.9" y="522.1"/><use href="#g" x="610.5" y="525.4"/><use href="#g" x="606.1" y="528.6"/><use href="#g" x="609.7" y="531.9"/><use href="#g" x="607.8" y="535.1"/><use href="#g" x="605.1" y="538.4"/><use href="#g" x="608.5" y="541.6"/><use href="#g" x="607.9" y="544.8"/><use href="#g" x="605.9" y="548.1"/><use href="#g" x="609.2" y="551.3"/><use href="#g" x="609.4" y="554.6"/><use href="#g" x="607.2" y="557.8"/><use href="#g" x="611.1" y="561.1"/><use href="#g" x="609.7" y="564.3"/><use href="#g" x="615.6" y="482.2"/><use href="#g" x="622.0" y="485.0"/><use href="#g" x="616.5" y="488.4"/><use href="#g" x="615.8" y="491.5"/><use href="#g" x="623.6" y="494.4"/><use href="#g" x="620.0" y="497.6"/><use href="#g" x="618.0" y="500.8"/><use href="#g" x="624.8" y="503.7"/><use href="#g" x="619.0" y="507.0"/><use href="#g" x="617.2" y="510.2"/><use href="#g" x="623.2" y="513.1"/><use href="#g" x="616.4" y="516.5"/><use href="#g" x="617.9" y="519.5"/><use href="#g" x="624.3" y="522.4"/><use href="#g" x="622.0" y="525.6"/><use href="#g" x="617.7" y="528.9"/><use href="#g" x="624.3" y="531.8"/><use href="#g" x="619.8" y="535.1"/><use href="#g" x="596.7" y="481.8"/><use href="#g" x="601.6" y="485.5"/><use href="#g" x="600.5" y="488.7"/><use href="#g" x="596.6" y="491.8"/><use href="#g" x="601.1" y="495.5"/><use href="#g" x="597.7" y="498.6"/><use href="#g" x="595.2" y="501.8"/><use href="#g" x="599.3" y="505.4"/><use href="#g" x="597.5" y="508.6"/><use href="#g" x="594.2" y="511.7"/><use href="#g" x="632.3" y="503.5"/><use href="#g" x="626.0" y="488.3"/><use href="#g" x="630.2" y="489.0"/><use href="#g" x="640.0" y="498.3"/><use href="#g" x="635.1" y="485.1"/><use href="#g" x="641.9" y="490.0"/><use href="#g" x="645.2" y="494.6"/><use href="#g" x="638.7" y="479.2"/><use href="#g" x="644.9" y="482.3"/><use href="#g" x="654.3" y="490.2"/><use href="#g" x="647.5" y="474.4"/><use href="#g" x="651.4" y="476.5"/><use href="#g" x="655.7" y="489.1"/><use href="#g" x="656.6" y="474.1"/><use href="#g" x="660.8" y="486.0"/><use href="#g" x="668.4" y="484.2"/><use href="#g" x="672.3" y="486.8"/><use href="#g" x="668.8" y="490.2"/><use href="#g" x="668.8" y="493.2"/><use href="#g" x="672.8" y="495.8"/><use href="#g" x="672.6" y="498.9"/><use href="#g" x="671.3" y="502.0"/><use href="#g" x="674.9" y="504.7"/><use href="#g" x="673.8" y="504.9"/><use href="#g" x="670.9" y="508.1"/><use href="#g" x="674.4" y="510.9"/><use href="#g" x="674.1" y="513.9"/><use href="#g" x="671.0" y="517.1"/><use href="#g" x="674.2" y="519.9"/><use href="#g" x="674.0" y="523.0"/><use href="#g" x="670.9" y="526.2"/><use href="#g" x="692.6" y="343.5"/><use href="#g" x="693.1" y="346.3"/><use href="#g" x="692.4" y="349.2"/><use href="#g" x="692.3" y="352.0"/><use href="#g" x="688.4" y="372.1"/><use href="#g" x="696.1" y="375.1"/><use href="#g" x="696.4" y="378.4"/><use href="#g" x="689.1" y="381.8"/><use href="#g" x="696.8" y="384.8"/><use href="#g" x="688.9" y="388.3"/><use href="#g" x="687.7" y="391.5"/><use href="#g" x="697.0" y="394.5"/><use href="#g" x="690.3" y="397.9"/><use href="#g" x="688.2" y="401.2"/><use href="#g" x="697.5" y="404.2"/><use href="#g" x="697.8" y="407.5"/><use href="#g" x="689.7" y="410.9"/><use href="#g" x="697.7" y="413.9"/><use href="#g" x="694.9" y="417.2"/><use href="#g" x="688.6" y="420.7"/><use href="#g" x="697.9" y="423.6"/><use href="#g" x="696.5" y="426.9"/><use href="#g" x="724.8" y="344.9"/><use href="#g" x="725.2" y="348.3"/><use href="#g" x="724.7" y="351.5"/><use href="#g" x="723.5" y="354.7"/><use href="#g" x="723.7" y="358.0"/><use href="#g" x="723.8" y="358.0"/><use href="#g" x="722.6" y="361.2"/><use href="#g" x="723.1" y="364.5"/><use href="#g" x="721.9" y="367.7"/><use href="#g" x="721.7" y="370.9"/><use href="#g" x="717.0" y="392.0"/><use href="#g" x="720.4" y="388.7"/><use href="#g" x="723.8" y="389.8"/><use href="#g" x="727.2" y="391.4"/><use href="#g" x="730.6" y="388.3"/><use href="#g" x="734.0" y="390.0"/><use href="#g" x="726.5" y="400.0"/><use href="#g" x="734.6" y="403.2"/><use href="#g" x="729.9" y="406.4"/><use href="#g" x="727.7" y="409.6"/><use href="#g" x="736.0" y="412.8"/><use href="#g" x="726.9" y="416.0"/><use href="#g" x="726.2" y="419.2"/><use href="#g" x="734.0" y="422.4"/><use href="#g" x="729.4" y="425.6"/><use href="#g" x="727.4" y="428.8"/><use href="#g" x="735.2" y="432.0"/><use href="#g" x="765.2" y="385.2"/><use href="#g" x="772.7" y="388.4"/><use href="#g" x="769.3" y="391.7"/><use href="#g" x="768.3" y="394.9"/><use href="#g" x="774.8" y="398.2"/><use href="#g" x="774.6" y="401.4"/><use href="#g" x="767.9" y="404.6"/><use href="#g" x="774.3" y="407.9"/><use href="#g" x="772.0" y="411.1"/><use href="#g" x="767.2" y="414.4"/><use href="#g" x="773.6" y="417.6"/><use href="#g" x="771.3" y="420.8"/><use href="#g" x="766.9" y="424.1"/><use href="#g" x="773.5" y="427.3"/><use href="#g" x="773.0" y="430.6"/><use href="#g" x="767.9" y="433.8"/><use href="#g" x="773.8" y="437.0"/><use href="#g" x="769.8" y="440.3"/><use href="#g" x="767.7" y="443.5"/><use href="#g" x="774.3" y="446.8"/><use href="#g" x="772.8" y="450.0"/><use href="#g" x="795.9" y="385.1"/><use href="#g" x="805.2" y="388.3"/><use href="#g" x="805.2" y="391.7"/><use href="#g" x="796.4" y="395.2"/><use href="#g" x="806.6" y="398.4"/><use href="#g" x="803.3" y="401.8"/><use href="#g" x="796.9" y="405.3"/><use href="#g" x="805.7" y="408.5"/><use href="#g" x="797.3" y="412.1"/><use href="#g" x="799.8" y="378.5"/><use href="#g" x="800.8" y="381.7"/><use href="#g" x="800.4" y="385.0"/><use href="#g" x="796.5" y="418.1"/><use href="#g" x="797.2" y="421.5"/><use href="#g" x="794.4" y="424.2"/><use href="#g" x="793.4" y="427.2"/><use href="#g" x="794.2" y="430.6"/><use href="#g" x="792.4" y="433.5"/><use href="#g" x="790.3" y="436.4"/><use href="#g" x="791.6" y="439.9"/><use href="#g" x="791.7" y="443.1"/><use href="#g" x="811.5" y="433.0"/><use href="#g" x="812.2" y="436.2"/><use href="#g" x="812.1" y="439.4"/><use href="#g" x="811.4" y="442.6"/><use href="#g" x="812.2" y="445.7"/><use href="#g" x="812.5" y="448.9"/><use href="#g" x="812.1" y="452.1"/><use href="#g" x="812.8" y="455.3"/><use href="#g" x="812.3" y="458.5"/><use href="#g" x="812.0" y="461.6"/><use href="#g" x="812.7" y="464.8"/><use href="#g" x="812.9" y="468.0"/><use href="#g" x="700.0" y="452.1"/><use href="#g" x="703.2" y="437.3"/><use href="#g" x="706.4" y="444.5"/><use href="#g" x="709.7" y="450.9"/><use href="#g" x="712.9" y="436.0"/><use href="#g" x="716.1" y="449.0"/><use href="#g" x="719.3" y="449.7"/><use href="#g" x="722.5" y="434.7"/><use href="#g" x="725.7" y="446.7"/><use href="#g" x="729.0" y="447.6"/><use href="#g" x="732.2" y="435.5"/><use href="#g" x="735.4" y="437.9"/><use href="#g" x="738.6" y="450.0"/><use href="#g" x="741.8" y="436.5"/><use href="#g" x="745.0" y="443.0"/><use href="#g" x="748.3" y="449.4"/><use href="#g" x="751.5" y="437.4"/><use href="#g" x="754.7" y="444.9"/><use href="#g" x="757.9" y="449.5"/><use href="#g" x="761.1" y="435.6"/><use href="#g" x="764.3" y="448.8"/><use href="#g" x="767.6" y="449.5"/><use href="#g" x="770.8" y="435.5"/><use href="#g" x="774.0" y="449.5"/><use href="#g" x="739.0" y="456.0"/><use href="#g" x="742.6" y="459.1"/><use href="#g" x="739.0" y="462.3"/><use href="#g" x="739.4" y="465.5"/><use href="#g" x="742.6" y="468.6"/><use href="#g" x="742.9" y="471.7"/><use href="#g" x="740.3" y="474.9"/><use href="#g" x="743.8" y="478.0"/><use href="#g" x="742.0" y="481.2"/><use href="#g" x="740.6" y="484.3"/><use href="#g" x="744.3" y="487.5"/><use href="#g" x="743.1" y="490.6"/><use href="#g" x="741.8" y="493.8"/><use href="#g" x="745.4" y="496.9"/><use href="#g" x="743.7" y="500.1"/><use href="#g" x="741.8" y="503.2"/><use href="#g" x="745.1" y="506.3"/><use href="#g" x="744.9" y="509.5"/><use href="#g" x="753.0" y="456.5"/><use href="#g" x="760.3" y="458.8"/><use href="#g" x="756.8" y="462.3"/><use href="#g" x="753.8" y="465.8"/><use href="#g" x="761.1" y="468.1"/><use href="#g" x="760.2" y="471.3"/><use href="#g" x="755.9" y="475.0"/><use href="#g" x="762.7" y="477.3"/><use href="#g" x="757.8" y="481.1"/><use href="#g" x="757.2" y="484.3"/><use href="#g" x="765.1" y="486.5"/><use href="#g" x="744.3" y="460.2"/><use href="#g" x="751.8" y="463.0"/><use href="#g" x="751.7" y="466.2"/><use href="#g" x="747.6" y="469.5"/><use href="#g" x="753.4" y="472.4"/><use href="#g" x="748.7" y="475.8"/><use href="#g" x="745.1" y="479.1"/><use href="#g" x="752.0" y="481.9"/><use href="#g" x="682.5" y="442.5"/><use href="#g" x="686.2" y="446.4"/><use href="#g" x="683.6" y="449.3"/><use href="#g" x="682.8" y="452.5"/><use href="#g" x="686.0" y="456.3"/><use href="#g" x="682.6" y="459.0"/><use href="#g" x="681.9" y="462.2"/><use href="#g" x="684.4" y="466.0"/><use href="#g" x="680.3" y="468.6"/><use href="#g" x="677.9" y="471.5"/><use href="#g" x="680.9" y="472.0"/><use href="#g" x="680.4" y="475.2"/><use href="#g" x="677.0" y="478.0"/><use href="#g" x="680.3" y="481.7"/><use href="#g" x="678.1" y="484.7"/><use href="#g" x="676.9" y="487.8"/><use href="#g" x="680.2" y="491.5"/><use href="#g" x="676.2" y="494.2"/><use href="#g" x="675.6" y="497.4"/><use href="#g" x="678.9" y="501.2"/><use href="#g" x="675.9" y="504.0"/><use href="#g" x="674.8" y="503.9"/><use href="#g" x="677.1" y="507.2"/><use href="#g" x="674.4" y="510.1"/><use href="#g" x="672.1" y="513.0"/><use href="#g" x="676.0" y="516.4"/><use href="#g" x="675.5" y="519.4"/><use href="#g" x="672.8" y="522.3"/><use href="#g" x="676.0" y="525.6"/><use href="#g" x="664.7" y="465.1"/><use href="#g" x="671.0" y="468.1"/><use href="#g" x="667.9" y="471.3"/><use href="#g" x="663.5" y="474.5"/><use href="#g" x="670.1" y="477.5"/><use href="#g" x="666.4" y="480.7"/><use href="#g" x="665.1" y="483.9"/><use href="#g" x="672.5" y="486.8"/><use href="#g" x="670.0" y="490.0"/><use href="#g" x="663.5" y="493.3"/><use href="#g" x="670.5" y="496.3"/><use href="#g" x="671.2" y="499.4"/><use href="#g" x="664.5" y="502.7"/><use href="#g" x="671.7" y="505.7"/><use href="#g" x="669.6" y="508.9"/><use href="#g" x="664.7" y="512.1"/><use href="#g" x="702.9" y="471.0"/><use href="#g" x="705.9" y="474.2"/><use href="#g" x="703.7" y="477.4"/><use href="#g" x="704.1" y="480.7"/><use href="#g" x="706.3" y="483.9"/><use href="#g" x="705.6" y="487.1"/><use href="#g" x="702.9" y="490.3"/><use href="#g" x="705.3" y="493.6"/><use href="#g" x="703.3" y="496.8"/><use href="#g" x="702.5" y="500.0"/><use href="#g" x="788.5" y="456.3"/><use href="#g" x="787.9" y="459.5"/><use href="#g" x="785.4" y="461.5"/><use href="#g" x="782.7" y="463.3"/><use href="#g" x="782.5" y="466.7"/><use href="#g" x="779.9" y="468.6"/><use href="#g" x="779.1" y="468.6"/><use href="#g" x="780.5" y="472.0"/><use href="#g" x="780.0" y="475.2"/><use href="#g" x="777.9" y="478.2"/><use href="#g" x="778.9" y="481.6"/><use href="#g" x="778.0" y="484.7"/><use href="#g" x="776.5" y="487.8"/><use href="#g" x="778.1" y="488.0"/><use href="#g" x="778.5" y="491.4"/><use href="#g" x="778.5" y="494.9"/><use href="#g" x="781.6" y="497.5"/><use href="#g" x="782.3" y="500.7"/><use href="#g" x="782.3" y="504.2"/><use href="#g" x="784.2" y="503.7"/><use href="#g" x="783.1" y="507.1"/><use href="#g" x="784.0" y="510.0"/><use href="#g" x="786.5" y="512.4"/><use href="#g" x="811.4" y="434.0"/><use href="#g" x="812.4" y="437.3"/><use href="#g" x="812.2" y="440.6"/><use href="#g" x="811.6" y="443.9"/><use href="#g" x="812.4" y="447.2"/><use href="#g" x="812.5" y="450.5"/><use href="#g" x="811.6" y="453.8"/><use href="#g" x="812.7" y="457.1"/><use href="#g" x="812.5" y="460.4"/><use href="#g" x="812.2" y="463.7"/><use href="#g" x="812.9" y="467.0"/><use href="#g" x="827.6" y="435.0"/><use href="#g" x="829.1" y="438.2"/><use href="#g" x="828.0" y="441.5"/><use href="#g" x="827.8" y="444.7"/><use href="#g" x="829.3" y="447.9"/><use href="#g" x="828.2" y="451.2"/><use href="#g" x="828.5" y="454.4"/><use href="#g" x="830.0" y="457.5"/><use href="#g" x="829.2" y="460.8"/><use href="#g" x="828.0" y="464.1"/><use href="#g" x="818.1" y="442.1"/><use href="#g" x="821.2" y="445.3"/><use href="#g" x="818.1" y="448.8"/><use href="#g" x="817.8" y="452.1"/><use href="#g" x="821.4" y="455.3"/><use href="#g" x="818.3" y="458.8"/><use href="#g" x="818.7" y="462.1"/><use href="#g" x="834.0" y="482.0"/><use href="#g" x="835.6" y="484.8"/><use href="#g" x="835.0" y="488.0"/><use href="#g" x="834.3" y="491.2"/><use href="#g" x="836.1" y="494.0"/><use href="#g" x="836.2" y="497.1"/><use href="#g" x="836.7" y="500.1"/><use href="#g" x="838.0" y="499.7"/><use href="#g" x="838.6" y="502.6"/><use href="#g" x="838.7" y="505.7"/><use href="#g" x="841.1" y="508.1"/><use href="#g" x="841.7" y="511.0"/><use href="#g" x="841.5" y="514.2"/><use href="#g" x="843.2" y="516.8"/><use href="#g" x="843.5" y="519.9"/><use href="#g" x="842.3" y="520.1"/><use href="#g" x="844.5" y="523.0"/><use href="#g" x="844.6" y="526.1"/><use href="#g" x="844.8" y="529.3"/><use href="#g" x="846.6" y="532.2"/><use href="#g" x="845.3" y="535.6"/><use href="#g" x="845.5" y="538.8"/><use href="#g" x="847.1" y="541.7"/><use href="#g" x="846.9" y="545.0"/><use href="#g" x="846.1" y="548.3"/><use href="#g" x="844.1" y="496.2"/><use href="#g" x="848.1" y="496.3"/><use href="#g" x="851.0" y="497.9"/><use href="#g" x="853.0" y="500.7"/><use href="#g" x="849.9" y="510.4"/><use href="#g" x="854.0" y="509.3"/><use href="#g" x="857.3" y="511.1"/><use href="#g" x="851.0" y="526.7"/><use href="#g" x="855.4" y="525.1"/><use href="#g" x="856.3" y="529.1"/><use href="#g" x="859.1" y="530.2"/><use href="#g" x="863.4" y="528.7"/><use href="#g" x="854.5" y="541.5"/><use href="#g" x="859.0" y="538.4"/><use href="#g" x="861.4" y="542.0"/><use href="#g" x="863.7" y="546.0"/><use href="#g" x="868.4" y="542.0"/><use href="#g" x="871.4" y="543.6"/><use href="#g" x="844.2" y="535.0"/><use href="#g" x="846.9" y="538.1"/><use href="#g" x="843.7" y="541.2"/><use href="#g" x="843.2" y="544.3"/><use href="#g" x="846.8" y="547.3"/><use href="#g" x="844.2" y="550.4"/><use href="#g" x="842.8" y="553.5"/><use href="#g" x="855.5" y="541.6"/><use href="#g" x="862.9" y="540.8"/><use href="#g" x="861.5" y="545.8"/><use href="#g" x="860.2" y="550.6"/><use href="#g" x="868.2" y="549.5"/><use href="#g" x="870.8" y="551.8"/><use href="#g" x="866.7" y="558.5"/><use href="#g" x="887.1" y="548.0"/><use href="#g" x="887.9" y="551.3"/><use href="#g" x="887.4" y="554.6"/><use href="#g" x="886.8" y="557.8"/><use href="#g" x="887.5" y="561.1"/><use href="#g" x="886.4" y="564.4"/><use href="#g" x="886.5" y="564.0"/><use href="#g" x="885.1" y="566.7"/><use href="#g" x="882.8" y="568.6"/><use href="#g" x="880.6" y="570.7"/><use href="#g" x="876.3" y="587.9"/><use href="#g" x="877.0" y="591.3"/><use href="#g" x="876.5" y="594.5"/><use href="#g" x="876.2" y="597.7"/><use href="#g" x="876.6" y="601.0"/><use href="#g" x="891.8" y="585.0"/><use href="#g" x="892.7" y="588.1"/><use href="#g" x="892.4" y="591.2"/><use href="#g" x="891.7" y="594.3"/><use href="#g" x="892.5" y="597.3"/><use href="#g" x="892.6" y="600.4"/><use href="#g" x="891.6" y="603.5"/><use href="#g" x="892.4" y="606.6"/><use href="#g" x="892.2" y="609.7"/><use href="#g" x="891.6" y="612.8"/><use href="#g" x="892.5" y="615.8"/><use href="#g" x="891.9" y="618.9"/><use href="#g" x="891.9" y="622.0"/><use href="#g" x="884.2" y="582.5"/><use href="#g" x="886.7" y="581.0"/><use href="#g" x="889.5" y="580.0"/><use href="#g" x="892.5" y="579.9"/><use href="#g" x="895.0" y="578.2"/><use href="#g" x="897.9" y="577.7"/><use href="#g" x="901.5" y="587.6"/><use href="#g" x="905.5" y="588.1"/><use href="#g" x="907.8" y="590.4"/><use href="#g" x="910.5" y="592.3"/><use href="#g" x="913.7" y="593.6"/><use href="#g" x="915.0" y="597.0"/><use href="#g" x="914.6" y="602.3"/><use href="#g" x="920.5" y="604.9"/><use href="#g" x="920.5" y="608.0"/><use href="#g" x="917.4" y="611.4"/><use href="#g" x="922.8" y="614.0"/><use href="#g" x="920.4" y="617.4"/><use href="#g" x="916.8" y="620.8"/><use href="#g" x="922.1" y="623.4"/><use href="#g" x="920.0" y="626.7"/><use href="#g" x="918.6" y="630.0"/><use href="#g" x="923.5" y="632.7"/><use href="#g" x="923.5" y="635.8"/><use href="#g" x="926.1" y="602.3"/><use href="#g" x="931.9" y="604.8"/><use href="#g" x="928.8" y="608.6"/><use href="#g" x="927.1" y="612.1"/><use href="#g" x="931.7" y="614.8"/><use href="#g" x="932.3" y="618.1"/><use href="#g" x="927.1" y="622.1"/><use href="#g" x="932.8" y="624.7"/><use href="#g" x="929.3" y="628.5"/><use href="#g" x="929.2" y="631.9"/><use href="#g" x="934.4" y="634.5"/><use href="#g" x="936.2" y="637.6"/><use href="#g" x="937.8" y="622.6"/><use href="#g" x="942.1" y="622.0"/><use href="#g" x="945.4" y="624.2"/><use href="#g" x="960.3" y="619.2"/><use href="#g" x="960.8" y="622.8"/><use href="#g" x="960.4" y="626.4"/><use href="#g" x="959.7" y="626.4"/><use href="#g" x="959.9" y="629.4"/><use href="#g" x="959.3" y="632.2"/><use href="#g" x="958.0" y="634.9"/><use href="#g" x="958.3" y="637.9"/><use href="#g" x="958.3" y="638.1"/><use href="#g" x="955.8" y="640.2"/><use href="#g" x="954.7" y="643.3"/><use href="#g" x="952.4" y="645.5"/><use href="#g" x="950.3" y="647.9"/><use href="#g" x="973.4" y="649.0"/><use href="#g" x="976.2" y="650.3"/><use href="#g" x="978.4" y="652.2"/><use href="#g" x="980.1" y="654.7"/><use href="#g" x="982.8" y="656.0"/><use href="#g" x="984.3" y="658.7"/><use href="#g" x="984.2" y="658.4"/><use href="#g" x="985.0" y="661.5"/><use href="#g" x="984.8" y="664.6"/><use href="#g" x="983.9" y="667.7"/><use href="#g" x="984.7" y="670.8"/><use href="#g" x="971.5" y="654.9"/><use href="#g" x="971.6" y="658.3"/><use href="#g" x="970.2" y="661.3"/><use href="#g" x="969.2" y="664.4"/><use href="#g" x="969.4" y="667.8"/><use href="#g" x="968.7" y="667.7"/><use href="#g" x="968.4" y="671.1"/><use href="#g" x="969.1" y="674.6"/><use href="#g" x="968.2" y="678.0"/><use href="#g" x="944.0" y="628.0"/><use href="#g" x="948.0" y="636.0"/><use href="#g" x="940.0" y="640.0"/><use href="#g" x="511.0" y="430.0"/><use href="#g" x="572.7" y="223.8"/><use href="#g" x="543.2" y="357.5"/><use href="#g" x="576.0" y="323.0"/><use href="#g" x="576.0" y="395.0"/><use href="#g" x="539.0" y="480.7"/><use href="#g" x="474.3" y="488.7"/><use href="#g" x="600.0" y="417.6"/><use href="#g" x="600.0" y="439.0"/><use href="#g" x="620.7" y="448.7"/><use href="#g" x="602.0" y="455.7"/><use href="#g" x="656.0" y="457.6"/><use href="#g" x="716.0" y="480.8"/><use href="#g" x="772.0" y="383.5"/><use href="#g" x="807.6" y="414.0"/><use href="#g" x="813.5" y="468.0"/><use href="#g" x="742.3" y="530.3"/><use href="#g" x="742.3" y="541.5"/><use href="#g" x="815.0" y="531.0"/><use href="#g" x="856.3" y="432.8"/><use href="#g" x="887.5" y="548.7"/><use href="#g" x="949.5" y="606.8"/><use href="#g" x="987.2" y="611.0"/><use href="#g" x="992.9" y="623.3"/><use href="#g" x="968.6" y="694.5"/><use href="#g" x="966.0" y="711.0"/><use href="#g" x="966.0" y="717.2"/><use href="#g" x="760.7" y="487.0"/>
</g><g>
<use href="#p" x="591.5" y="362.6"/><use href="#p" x="592.2" y="392.4"/><use href="#p" x="593.6" y="370.1"/><use href="#p" x="591.8" y="377.9"/><use href="#p" x="591.7" y="385.5"/><use href="#p" x="592.2" y="394.3"/><use href="#p" x="595.6" y="358.8"/><use href="#p" x="598.1" y="400.2"/><use href="#p" x="597.0" y="361.2"/><use href="#p" x="595.3" y="368.1"/><use href="#p" x="595.7" y="375.8"/><use href="#p" x="596.9" y="384.5"/><use href="#p" x="598.1" y="393.1"/><use href="#p" x="595.5" y="399.7"/><use href="#p" x="602.7" y="354.3"/><use href="#p" x="602.3" y="419.2"/><use href="#p" x="601.0" y="360.3"/><use href="#p" x="600.7" y="368.7"/><use href="#p" x="600.7" y="375.8"/><use href="#p" x="600.8" y="382.8"/><use href="#p" x="601.0" y="390.9"/><use href="#p" x="603.1" y="399.2"/><use href="#p" x="601.0" y="406.7"/><use href="#p" x="602.8" y="415.2"/><use href="#p" x="608.1" y="362.5"/><use href="#p" x="609.0" y="438.0"/><use href="#p" x="609.4" y="367.2"/><use href="#p" x="608.8" y="374.5"/><use href="#p" x="607.8" y="382.9"/><use href="#p" x="607.9" y="389.4"/><use href="#p" x="608.2" y="396.6"/><use href="#p" x="608.0" y="404.6"/><use href="#p" x="606.8" y="411.2"/><use href="#p" x="608.5" y="419.6"/><use href="#p" x="608.8" y="429.1"/><use href="#p" x="607.8" y="436.5"/><use href="#p" x="613.1" y="375.3"/><use href="#p" x="611.7" y="436.3"/><use href="#p" x="611.4" y="381.6"/><use href="#p" x="610.4" y="391.2"/><use href="#p" x="610.5" y="398.9"/><use href="#p" x="610.7" y="407.5"/><use href="#p" x="611.6" y="414.4"/><use href="#p" x="612.6" y="422.7"/><use href="#p" x="611.2" y="430.5"/><use href="#p" x="617.1" y="403.6"/><use href="#p" x="614.5" y="435.8"/><use href="#p" x="615.9" y="410.4"/><use href="#p" x="614.8" y="417.3"/><use href="#p" x="616.7" y="426.5"/><use href="#p" x="616.5" y="433.1"/><use href="#p" x="619.6" y="395.4"/><use href="#p" x="622.3" y="434.0"/><use href="#p" x="621.8" y="400.7"/><use href="#p" x="619.6" y="407.4"/><use href="#p" x="620.9" y="415.9"/><use href="#p" x="621.8" y="425.2"/><use href="#p" x="619.6" y="432.2"/><use href="#p" x="625.9" y="388.5"/><use href="#p" x="625.0" y="430.1"/><use href="#p" x="625.9" y="392.7"/><use href="#p" x="625.0" y="402.2"/><use href="#p" x="625.3" y="409.6"/><use href="#p" x="625.5" y="418.9"/><use href="#p" x="624.6" y="425.4"/><use href="#p" x="630.2" y="378.0"/><use href="#p" x="631.4" y="416.8"/><use href="#p" x="630.2" y="383.6"/><use href="#p" x="629.1" y="391.0"/><use href="#p" x="630.8" y="399.8"/><use href="#p" x="629.8" y="407.3"/><use href="#p" x="630.7" y="415.9"/><use href="#p" x="632.8" y="375.3"/><use href="#p" x="633.7" y="413.5"/><use href="#p" x="633.3" y="378.9"/><use href="#p" x="632.8" y="386.5"/><use href="#p" x="634.1" y="396.0"/><use href="#p" x="634.4" y="402.8"/><use href="#p" x="634.1" y="411.1"/><use href="#p" x="638.7" y="366.2"/><use href="#p" x="639.5" y="397.4"/><use href="#p" x="638.8" y="372.3"/><use href="#p" x="638.1" y="379.9"/><use href="#p" x="638.8" y="387.5"/><use href="#p" x="638.0" y="395.0"/><use href="#p" x="643.5" y="372.6"/><use href="#p" x="642.9" y="406.1"/><use href="#p" x="641.9" y="376.6"/><use href="#p" x="643.4" y="383.4"/><use href="#p" x="641.9" y="392.7"/><use href="#p" x="641.3" y="400.3"/><use href="#p" x="646.0" y="375.5"/><use href="#p" x="646.8" y="411.0"/><use href="#p" x="646.4" y="381.1"/><use href="#p" x="646.8" y="388.2"/><use href="#p" x="645.5" y="395.8"/><use href="#p" x="645.0" y="402.8"/><use href="#p" x="645.0" y="410.6"/><use href="#p" x="649.7" y="380.3"/><use href="#p" x="647.8" y="416.6"/><use href="#p" x="647.5" y="384.2"/><use href="#p" x="649.1" y="393.1"/><use href="#p" x="648.6" y="399.6"/><use href="#p" x="648.2" y="407.9"/><use href="#p" x="648.5" y="414.4"/><use href="#p" x="653.3" y="381.1"/><use href="#p" x="651.5" y="415.7"/><use href="#p" x="652.2" y="388.7"/><use href="#p" x="652.9" y="395.5"/><use href="#p" x="652.1" y="402.2"/><use href="#p" x="650.7" y="408.9"/><use href="#p" x="650.9" y="416.6"/><use href="#p" x="656.2" y="387.5"/><use href="#p" x="657.3" y="416.1"/><use href="#p" x="656.4" y="391.2"/><use href="#p" x="656.8" y="399.1"/><use href="#p" x="654.9" y="407.6"/><use href="#p" x="655.7" y="415.7"/><use href="#p" x="659.4" y="389.5"/><use href="#p" x="660.1" y="411.4"/><use href="#p" x="658.1" y="394.6"/><use href="#p" x="658.2" y="401.1"/><use href="#p" x="658.6" y="410.6"/><use href="#p" x="221.7" y="365.9"/><use href="#p" x="222.7" y="402.3"/><use href="#p" x="224.1" y="370.7"/><use href="#p" x="222.2" y="379.8"/><use href="#p" x="223.6" y="386.7"/><use href="#p" x="221.6" y="396.2"/><use href="#p" x="226.1" y="370.4"/><use href="#p" x="226.0" y="403.8"/><use href="#p" x="228.2" y="375.4"/><use href="#p" x="226.9" y="384.7"/><use href="#p" x="226.6" y="391.5"/><use href="#p" x="227.5" y="398.7"/><use href="#p" x="232.5" y="376.0"/><use href="#p" x="231.5" y="402.2"/><use href="#p" x="231.3" y="382.2"/><use href="#p" x="232.2" y="390.1"/><use href="#p" x="231.2" y="398.8"/><use href="#p" x="235.2" y="380.1"/><use href="#p" x="234.2" y="416.1"/><use href="#p" x="235.4" y="383.7"/><use href="#p" x="236.6" y="393.1"/><use href="#p" x="235.0" y="399.6"/><use href="#p" x="235.0" y="407.2"/><use href="#p" x="235.9" y="414.0"/><use href="#p" x="239.7" y="383.3"/><use href="#p" x="239.4" y="422.4"/><use href="#p" x="241.5" y="388.8"/><use href="#p" x="239.6" y="397.8"/><use href="#p" x="240.3" y="404.8"/><use href="#p" x="241.5" y="413.6"/><use href="#p" x="240.7" y="421.0"/><use href="#p" x="244.8" y="391.4"/><use href="#p" x="244.2" y="429.2"/><use href="#p" x="246.1" y="395.7"/><use href="#p" x="246.3" y="404.0"/><use href="#p" x="243.9" y="413.4"/><use href="#p" x="244.0" y="422.9"/><use href="#p" x="250.1" y="394.2"/><use href="#p" x="251.3" y="421.2"/><use href="#p" x="251.5" y="399.6"/><use href="#p" x="250.3" y="408.8"/><use href="#p" x="249.7" y="415.4"/><use href="#p" x="250.1" y="422.7"/><use href="#p" x="255.9" y="407.2"/><use href="#p" x="254.3" y="417.6"/><use href="#p" x="256.3" y="409.5"/><use href="#p" x="254.8" y="417.0"/><use href="#p" x="258.9" y="400.4"/><use href="#p" x="258.5" y="411.9"/><use href="#p" x="257.3" y="406.1"/><use href="#p" x="262.9" y="396.9"/><use href="#p" x="263.1" y="410.0"/><use href="#p" x="262.1" y="400.6"/><use href="#p" x="262.8" y="408.0"/><use href="#p" x="265.4" y="391.2"/><use href="#p" x="268.0" y="406.1"/><use href="#p" x="266.9" y="397.4"/><use href="#p" x="265.6" y="403.9"/><use href="#p" x="271.9" y="401.5"/><use href="#p" x="272.4" y="416.0"/><use href="#p" x="273.4" y="405.8"/><use href="#p" x="273.0" y="415.1"/><use href="#p" x="275.6" y="403.6"/><use href="#p" x="275.8" y="417.8"/><use href="#p" x="276.7" y="410.0"/><use href="#p" x="274.3" y="419.2"/><use href="#p" x="279.9" y="405.6"/><use href="#p" x="280.8" y="420.0"/><use href="#p" x="279.5" y="408.1"/><use href="#p" x="280.9" y="415.7"/><use href="#p" x="285.6" y="396.4"/><use href="#p" x="284.8" y="410.8"/><use href="#p" x="285.9" y="402.2"/><use href="#p" x="284.0" y="408.6"/><use href="#p" x="288.9" y="390.0"/><use href="#p" x="290.2" y="408.2"/><use href="#p" x="288.2" y="396.8"/><use href="#p" x="289.6" y="406.2"/><use href="#p" x="294.4" y="380.7"/><use href="#p" x="294.0" y="404.4"/><use href="#p" x="295.8" y="388.3"/><use href="#p" x="294.3" y="395.1"/><use href="#p" x="295.0" y="402.4"/><use href="#p" x="298.7" y="377.9"/><use href="#p" x="299.0" y="399.3"/><use href="#p" x="300.0" y="384.0"/><use href="#p" x="299.7" y="393.3"/><use href="#p" x="302.5" y="372.5"/><use href="#p" x="303.2" y="391.0"/><use href="#p" x="302.9" y="379.2"/><use href="#p" x="302.7" y="388.8"/><use href="#p" x="307.7" y="379.1"/><use href="#p" x="305.6" y="391.6"/><use href="#p" x="306.2" y="381.3"/><use href="#p" x="308.2" y="390.2"/><use href="#p" x="308.0" y="378.2"/><use href="#p" x="310.6" y="385.5"/><use href="#p" x="309.1" y="385.3"/><use href="#p" x="332.2" y="327.2"/><use href="#p" x="329.9" y="340.3"/><use href="#p" x="332.2" y="335.1"/><use href="#p" x="337.0" y="326.1"/><use href="#p" x="334.7" y="344.4"/><use href="#p" x="337.0" y="331.0"/><use href="#p" x="334.7" y="340.1"/><use href="#p" x="341.2" y="323.1"/><use href="#p" x="340.5" y="345.5"/><use href="#p" x="340.4" y="331.1"/><use href="#p" x="341.0" y="339.7"/><use href="#p" x="340.1" y="348.3"/><use href="#p" x="345.1" y="329.4"/><use href="#p" x="344.3" y="351.9"/><use href="#p" x="344.3" y="331.6"/><use href="#p" x="344.6" y="340.2"/><use href="#p" x="342.9" y="347.0"/><use href="#p" x="346.4" y="327.1"/><use href="#p" x="346.4" y="352.4"/><use href="#p" x="347.8" y="333.2"/><use href="#p" x="347.7" y="342.6"/><use href="#p" x="348.3" y="349.0"/><use href="#p" x="409.1" y="336.1"/><use href="#p" x="410.9" y="331.7"/><use href="#p" x="412.7" y="327.4"/><use href="#p" x="414.5" y="323.0"/><use href="#p" x="416.2" y="318.6"/><use href="#p" x="418.1" y="314.3"/><use href="#p" x="419.9" y="310.0"/><use href="#p" x="419.9" y="309.9"/><use href="#p" x="421.9" y="306.4"/><use href="#p" x="423.8" y="302.9"/><use href="#p" x="425.7" y="299.4"/><use href="#p" x="427.9" y="295.9"/><use href="#p" x="427.9" y="295.9"/><use href="#p" x="429.7" y="292.2"/><use href="#p" x="431.2" y="288.3"/><use href="#p" x="432.6" y="284.3"/><use href="#p" x="434.1" y="280.4"/><use href="#p" x="435.9" y="276.7"/><use href="#p" x="435.9" y="276.7"/><use href="#p" x="438.8" y="272.7"/><use href="#p" x="441.5" y="268.6"/><use href="#p" x="444.2" y="264.6"/><use href="#p" x="443.9" y="264.4"/><use href="#p" x="444.9" y="268.5"/><use href="#p" x="445.9" y="272.6"/><use href="#p" x="446.9" y="276.7"/><use href="#p" x="446.9" y="276.7"/><use href="#p" x="446.1" y="281.5"/><use href="#p" x="445.3" y="286.3"/><use href="#p" x="444.5" y="291.1"/><use href="#p" x="443.7" y="296.0"/><use href="#p" x="443.7" y="296.1"/><use href="#p" x="444.5" y="300.0"/><use href="#p" x="445.3" y="304.0"/><use href="#p" x="446.0" y="308.0"/><use href="#p" x="446.7" y="312.1"/><use href="#p" x="446.7" y="312.1"/><use href="#p" x="448.8" y="316.1"/><use href="#p" x="451.0" y="320.0"/><use href="#p" x="453.1" y="324.0"/><use href="#p" x="455.2" y="327.9"/><use href="#p" x="455.2" y="328.0"/><use href="#p" x="455.9" y="332.2"/><use href="#p" x="456.3" y="336.4"/><use href="#p" x="456.6" y="340.7"/><use href="#p" x="462.9" y="275.5"/><use href="#p" x="463.2" y="279.6"/><use href="#p" x="463.4" y="283.7"/><use href="#p" x="463.8" y="287.8"/><use href="#p" x="464.2" y="291.9"/><use href="#p" x="464.6" y="296.0"/><use href="#p" x="464.6" y="296.0"/><use href="#p" x="465.9" y="300.0"/><use href="#p" x="467.2" y="304.0"/><use href="#p" x="468.4" y="308.0"/><use href="#p" x="469.8" y="311.9"/><use href="#p" x="469.8" y="311.9"/><use href="#p" x="471.4" y="315.9"/><use href="#p" x="472.7" y="320.0"/><use href="#p" x="474.2" y="324.1"/><use href="#p" x="475.8" y="328.1"/><use href="#p" x="475.8" y="328.0"/><use href="#p" x="476.7" y="332.0"/><use href="#p" x="477.4" y="336.0"/><use href="#p" x="478.0" y="340.1"/><use href="#p" x="478.7" y="344.1"/><use href="#p" x="478.7" y="344.0"/><use href="#p" x="479.4" y="348.2"/><use href="#p" x="480.0" y="352.3"/><use href="#p" x="480.5" y="356.5"/><use href="#p" x="481.0" y="360.7"/><use href="#p" x="481.5" y="364.9"/><use href="#p" x="482.1" y="369.0"/><use href="#p" x="495.7" y="254.8"/><use href="#p" x="495.6" y="259.1"/><use href="#p" x="495.5" y="263.4"/><use href="#p" x="495.2" y="267.7"/><use href="#p" x="494.8" y="272.0"/><use href="#p" x="494.8" y="271.9"/><use href="#p" x="493.7" y="275.6"/><use href="#p" x="492.9" y="279.3"/><use href="#p" x="492.1" y="283.0"/><use href="#p" x="490.6" y="304.0"/><use href="#p" x="490.2" y="308.0"/><use href="#p" x="489.6" y="312.0"/><use href="#p" x="489.2" y="316.0"/><use href="#p" x="488.8" y="320.0"/><use href="#p" x="488.8" y="320.0"/><use href="#p" x="489.6" y="324.0"/><use href="#p" x="490.3" y="328.0"/><use href="#p" x="490.9" y="332.1"/><use href="#p" x="491.7" y="336.1"/><use href="#p" x="491.7" y="336.0"/><use href="#p" x="492.0" y="340.8"/><use href="#p" x="492.1" y="345.6"/><use href="#p" x="492.1" y="350.4"/><use href="#p" x="492.1" y="355.2"/><use href="#p" x="492.0" y="360.0"/><use href="#p" x="492.3" y="300.0"/><use href="#p" x="492.2" y="305.0"/><use href="#p" x="492.1" y="310.0"/><use href="#p" x="492.1" y="315.0"/><use href="#p" x="492.1" y="320.0"/><use href="#p" x="492.1" y="319.9"/><use href="#p" x="494.8" y="322.6"/><use href="#p" x="497.5" y="325.2"/><use href="#p" x="500.2" y="327.8"/><use href="#p" x="500.0" y="327.9"/><use href="#p" x="504.0" y="327.9"/><use href="#p" x="508.0" y="327.9"/><use href="#p" x="512.0" y="327.8"/><use href="#p" x="516.0" y="327.5"/><use href="#p" x="516.0" y="327.5"/><use href="#p" x="517.3" y="331.6"/><use href="#p" x="518.3" y="335.8"/><use href="#p" x="519.2" y="340.0"/><use href="#p" x="520.5" y="344.1"/><use href="#p" x="520.5" y="344.1"/><use href="#p" x="521.9" y="348.2"/><use href="#p" x="523.1" y="352.5"/><use href="#p" x="524.0" y="356.8"/><use href="#p" x="524.0" y="356.8"/><use href="#p" x="522.0" y="360.8"/><use href="#p" x="520.1" y="364.9"/><use href="#p" x="518.2" y="369.0"/><use href="#p" x="516.2" y="373.1"/><use href="#p" x="527.1" y="384.0"/><use href="#p" x="527.4" y="388.4"/><use href="#p" x="527.5" y="392.8"/><use href="#p" x="528.0" y="397.1"/><use href="#p" x="528.7" y="401.5"/><use href="#p" x="528.7" y="401.5"/><use href="#p" x="529.4" y="404.9"/><use href="#p" x="530.1" y="408.3"/><use href="#p" x="559.0" y="254.0"/><use href="#p" x="557.9" y="258.5"/><use href="#p" x="556.9" y="263.0"/><use href="#p" x="555.6" y="267.5"/><use href="#p" x="554.4" y="272.0"/><use href="#p" x="554.4" y="272.0"/><use href="#p" x="554.1" y="276.5"/><use href="#p" x="554.0" y="280.9"/><use href="#p" x="553.7" y="285.4"/><use href="#p" x="553.3" y="289.9"/><use href="#p" x="552.9" y="294.3"/><use href="#p" x="552.9" y="294.3"/><use href="#p" x="551.1" y="298.0"/><use href="#p" x="549.3" y="301.6"/><use href="#p" x="547.5" y="305.1"/><use href="#p" x="545.5" y="308.6"/><use href="#p" x="545.5" y="308.7"/><use href="#p" x="545.4" y="313.9"/><use href="#p" x="545.4" y="319.1"/><use href="#p" x="545.4" y="324.3"/><use href="#p" x="578.2" y="274.4"/><use href="#p" x="578.2" y="278.7"/><use href="#p" x="578.1" y="283.0"/><use href="#p" x="578.1" y="287.4"/><use href="#p" x="578.1" y="291.7"/><use href="#p" x="578.2" y="296.0"/><use href="#p" x="578.4" y="300.3"/><use href="#p" x="599.9" y="350.5"/><use href="#p" x="599.7" y="354.3"/><use href="#p" x="599.5" y="358.2"/><use href="#p" x="599.4" y="362.0"/><use href="#p" x="619.3" y="398.5"/><use href="#p" x="621.6" y="394.7"/><use href="#p" x="623.8" y="390.9"/><use href="#p" x="626.1" y="387.0"/><use href="#p" x="626.1" y="387.0"/><use href="#p" x="627.7" y="383.3"/><use href="#p" x="629.5" y="379.6"/><use href="#p" x="631.4" y="376.0"/><use href="#p" x="631.4" y="376.0"/><use href="#p" x="633.6" y="372.5"/><use href="#p" x="635.6" y="369.0"/><use href="#p" x="637.7" y="365.5"/><use href="#p" x="637.5" y="365.5"/><use href="#p" x="639.2" y="369.0"/><use href="#p" x="640.9" y="372.5"/><use href="#p" x="642.6" y="376.0"/><use href="#p" x="642.6" y="376.0"/><use href="#p" x="644.8" y="379.5"/><use href="#p" x="647.0" y="382.9"/><use href="#p" x="649.1" y="386.4"/><use href="#p" x="650.9" y="390.0"/><use href="#p" x="650.9" y="390.1"/><use href="#p" x="653.6" y="393.7"/><use href="#p" x="656.6" y="397.1"/><use href="#p" x="703.1" y="366.0"/><use href="#p" x="702.4" y="370.2"/><use href="#p" x="701.7" y="374.4"/><use href="#p" x="701.2" y="378.7"/><use href="#p" x="701.2" y="378.8"/><use href="#p" x="702.5" y="383.4"/><use href="#p" x="703.5" y="388.0"/><use href="#p" x="704.5" y="392.7"/><use href="#p" x="702.3" y="365.0"/><use href="#p" x="702.4" y="369.6"/><use href="#p" x="702.6" y="374.1"/><use href="#p" x="702.6" y="378.7"/><use href="#p" x="702.6" y="383.3"/><use href="#p" x="702.6" y="387.8"/><use href="#p" x="702.5" y="392.4"/><use href="#p" x="392.0" y="338.0"/><use href="#p" x="398.0" y="334.0"/><use href="#p" x="408.0" y="340.0"/><use href="#p" x="414.0" y="338.0"/><use href="#p" x="403.0" y="352.0"/><use href="#p" x="409.0" y="352.0"/><use href="#p" x="400.0" y="364.0"/><use href="#p" x="406.0" y="370.0"/><use href="#p" x="476.0" y="304.0"/><use href="#p" x="479.0" y="315.0"/><use href="#p" x="484.0" y="328.0"/><use href="#p" x="486.0" y="345.0"/><use href="#p" x="484.0" y="312.0"/><use href="#p" x="508.0" y="345.0"/><use href="#p" x="510.0" y="358.0"/><use href="#p" x="512.0" y="350.0"/><use href="#p" x="506.0" y="338.0"/><use href="#p" x="318.0" y="357.0"/><use href="#p" x="321.0" y="376.4"/><use href="#p" x="219.6" y="502.4"/><use href="#p" x="357.5" y="191.9"/><use href="#p" x="357.5" y="198.2"/><use href="#p" x="356.0" y="224.0"/><use href="#p" x="355.7" y="229.0"/><use href="#p" x="356.0" y="244.3"/><use href="#p" x="355.4" y="258.3"/><use href="#p" x="354.0" y="264.0"/><use href="#p" x="353.3" y="276.5"/><use href="#p" x="350.5" y="307.3"/><use href="#p" x="374.7" y="222.0"/><use href="#p" x="377.5" y="241.5"/><use href="#p" x="377.0" y="262.5"/><use href="#p" x="380.5" y="271.0"/><use href="#p" x="383.4" y="283.5"/><use href="#p" x="386.0" y="300.0"/><use href="#p" x="389.0" y="308.7"/><use href="#p" x="364.0" y="130.0"/><use href="#p" x="361.0" y="141.0"/><use href="#p" x="363.0" y="154.0"/><use href="#p" x="369.0" y="161.0"/><use href="#p" x="384.8" y="332.8"/><use href="#p" x="394.4" y="329.6"/><use href="#p" x="404.0" y="336.0"/><use href="#p" x="412.0" y="337.6"/><use href="#p" x="416.8" y="342.4"/><use href="#p" x="400.8" y="340.8"/><use href="#p" x="397.6" y="358.4"/><use href="#p" x="404.0" y="366.4"/><use href="#p" x="408.8" y="360.0"/><use href="#p" x="402.4" y="371.5"/><use href="#p" x="455.0" y="340.4"/><use href="#p" x="466.3" y="343.6"/><use href="#p" x="472.0" y="355.0"/><use href="#p" x="490.3" y="366.0"/><use href="#p" x="529.5" y="429.0"/><use href="#p" x="529.5" y="438.7"/><use href="#p" x="508.0" y="329.6"/><use href="#p" x="519.0" y="344.0"/><use href="#p" x="501.5" y="332.7"/><use href="#p" x="537.6" y="384.0"/><use href="#p" x="529.6" y="384.8"/><use href="#p" x="528.8" y="404.0"/><use href="#p" x="521.6" y="332.7"/><use href="#p" x="523.0" y="352.0"/><use href="#p" x="520.0" y="368.0"/><use href="#p" x="572.7" y="133.5"/><use href="#p" x="572.7" y="205.9"/><use href="#p" x="572.7" y="213.1"/><use href="#p" x="561.2" y="227.5"/><use href="#p" x="560.0" y="236.3"/><use href="#p" x="554.4" y="255.5"/><use href="#p" x="563.0" y="252.3"/><use href="#p" x="555.0" y="265.0"/><use href="#p" x="592.4" y="376.0"/><use href="#p" x="603.6" y="376.0"/><use href="#p" x="592.4" y="392.7"/><use href="#p" x="605.0" y="397.0"/><use href="#p" x="598.0" y="385.0"/><use href="#p" x="596.0" y="366.0"/><use href="#p" x="604.0" y="366.0"/><use href="#p" x="607.8" y="418.0"/><use href="#p" x="612.0" y="405.0"/><use href="#p" x="615.0" y="425.0"/><use href="#p" x="610.6" y="440.3"/><use href="#p" x="621.7" y="436.0"/><use href="#p" x="625.0" y="420.0"/><use href="#p" x="616.0" y="432.0"/><use href="#p" x="611.0" y="439.6"/><use href="#p" x="620.7" y="434.0"/><use href="#p" x="630.0" y="395.0"/><use href="#p" x="640.0" y="392.0"/><use href="#p" x="635.0" y="405.0"/><use href="#p" x="645.0" y="405.0"/><use href="#p" x="625.0" y="408.0"/><use href="#p" x="636.0" y="384.0"/><use href="#p" x="651.0" y="420.7"/><use href="#p" x="666.5" y="415.0"/><use href="#p" x="664.0" y="414.7"/><use href="#p" x="643.0" y="412.0"/><use href="#p" x="657.0" y="408.0"/><use href="#p" x="678.4" y="400.4"/><use href="#p" x="680.5" y="415.0"/><use href="#p" x="682.0" y="423.5"/><use href="#p" x="682.6" y="364.0"/><use href="#p" x="689.0" y="320.0"/><use href="#p" x="698.7" y="320.0"/><use href="#p" x="612.0" y="469.5"/><use href="#p" x="653.5" y="457.5"/><use href="#p" x="696.4" y="265.5"/><use href="#p" x="696.0" y="276.4"/><use href="#p" x="694.4" y="286.0"/><use href="#p" x="694.4" y="297.0"/><use href="#p" x="692.8" y="302.0"/><use href="#p" x="700.0" y="313.0"/><use href="#p" x="688.0" y="318.7"/><use href="#p" x="726.3" y="267.6"/><use href="#p" x="723.0" y="274.8"/><use href="#p" x="723.0" y="284.3"/><use href="#p" x="720.7" y="294.0"/><use href="#p" x="726.3" y="302.0"/><use href="#p" x="723.0" y="317.0"/><use href="#p" x="731.0" y="330.0"/><use href="#p" x="736.7" y="342.0"/><use href="#p" x="743.0" y="351.5"/><use href="#p" x="746.3" y="362.7"/><use href="#p" x="744.7" y="373.9"/><use href="#p" x="759.0" y="383.5"/><use href="#p" x="762.3" y="350.0"/><use href="#p" x="765.5" y="358.0"/><use href="#p" x="764.0" y="366.0"/><use href="#p" x="769.5" y="322.7"/><use href="#p" x="766.3" y="330.7"/><use href="#p" x="792.0" y="339.5"/><use href="#p" x="788.7" y="361.0"/><use href="#p" x="811.9" y="321.0"/><use href="#p" x="820.0" y="334.0"/><use href="#p" x="817.5" y="358.0"/><use href="#p" x="812.0" y="367.5"/><use href="#p" x="715.0" y="359.5"/><use href="#p" x="702.4" y="370.7"/><use href="#p" x="703.0" y="382.0"/><use href="#p" x="781.5" y="385.0"/><use href="#p" x="716.0" y="360.0"/><use href="#p" x="677.6" y="400.0"/><use href="#p" x="666.4" y="416.0"/><use href="#p" x="680.8" y="422.7"/><use href="#p" x="660.0" y="395.0"/><use href="#p" x="672.0" y="408.0"/><use href="#p" x="743.0" y="381.0"/><use href="#p" x="761.5" y="387.6"/><use href="#p" x="788.0" y="363.0"/><use href="#p" x="780.7" y="388.0"/><use href="#p" x="780.0" y="400.0"/><use href="#p" x="784.7" y="412.7"/><use href="#p" x="786.3" y="420.3"/><use href="#p" x="813.5" y="369.6"/><use href="#p" x="804.7" y="282.0"/><use href="#p" x="804.7" y="287.6"/><use href="#p" x="800.4" y="303.0"/><use href="#p" x="812.4" y="321.0"/><use href="#p" x="820.4" y="336.3"/><use href="#p" x="826.0" y="342.7"/><use href="#p" x="827.6" y="350.0"/><use href="#p" x="817.0" y="358.0"/><use href="#p" x="828.4" y="362.7"/><use href="#p" x="812.4" y="369.0"/><use href="#p" x="791.6" y="338.7"/><use href="#p" x="790.0" y="359.5"/><use href="#p" x="836.7" y="395.5"/><use href="#p" x="839.5" y="412.3"/><use href="#p" x="838.0" y="425.9"/><use href="#p" x="790.0" y="415.5"/><use href="#p" x="844.3" y="433.6"/><use href="#p" x="849.0" y="443.0"/><use href="#p" x="847.5" y="451.0"/><use href="#p" x="846.0" y="464.0"/><use href="#p" x="847.5" y="468.7"/><use href="#p" x="847.5" y="478.3"/><use href="#p" x="863.5" y="465.5"/><use href="#p" x="870.0" y="472.0"/><use href="#p" x="872.3" y="476.7"/><use href="#p" x="885.4" y="462.0"/><use href="#p" x="888.3" y="483.0"/><use href="#p" x="895.5" y="510.6"/><use href="#p" x="878.0" y="528.7"/><use href="#p" x="888.3" y="531.0"/><use href="#p" x="878.0" y="558.0"/>
</g>
<g stroke="#000" stroke-width="1.4" fill="none" stroke-linecap="square">
<rect x="108.4" y="107.0" width="889.1" height="1345.8"/>
<path d="M108.4 299.3h12.4M997.5 299.3h-12.4"/>
<path d="M108.4 491.5h12.4M997.5 491.5h-12.4"/>
<path d="M108.4 683.8h12.4M997.5 683.8h-12.4"/>
<path d="M108.4 876.0h12.4M997.5 876.0h-12.4"/>
<path d="M108.4 1068.3h12.4M997.5 1068.3h-12.4"/>
<path d="M108.4 1260.5h12.4M997.5 1260.5h-12.4"/>
<path d="M241.0 1452.8v-12.4"/>
<path d="M376.1 1452.8v-12.4"/>
<path d="M511.2 1452.8v-12.4"/>
<path d="M646.3 1452.8v-12.4"/>
<path d="M781.4 1452.8v-12.4"/>
<path d="M916.5 1452.8v-12.4"/>
<path d="M219.0 107.0v12.4"/>
<path d="M354.1 107.0v12.4"/>
<path d="M489.2 107.0v12.4"/>
<path d="M624.3 107.0v12.4"/>
<path d="M759.4 107.0v12.4"/>
<path d="M894.5 107.0v12.4"/>
</g>
<g font-size="40">
<text x="92.4" y="121.7" text-anchor="end">4</text>
<text x="92.4" y="314.0" text-anchor="end">6</text>
<text x="92.4" y="506.2" text-anchor="end">8</text>
<text x="92.4" y="698.5" text-anchor="end">10</text>
<text x="92.4" y="890.7" text-anchor="end">12</text>
<text x="92.4" y="1083.0" text-anchor="end">14</text>
<text x="92.4" y="1275.2" text-anchor="end">16</text>
<text x="92.4" y="1467.5" text-anchor="end">18</text>
<text x="246.5" y="1500.6" text-anchor="middle">9300</text>
<text x="381.6" y="1500.6" text-anchor="middle">9350</text>
<text x="516.7" y="1500.6" text-anchor="middle">9400</text>
<text x="651.8" y="1500.6" text-anchor="middle">9450</text>
<text x="786.9" y="1500.6" text-anchor="middle">9500</text>
<text x="922.0" y="1500.6" text-anchor="middle">9550</text>
<text x="224.2" y="88.6" text-anchor="middle">0</text>
<text x="359.3" y="88.6" text-anchor="middle">50</text>
<text x="494.4" y="88.6" text-anchor="middle">100</text>
<text x="629.5" y="88.6" text-anchor="middle">150</text>
<text x="764.6" y="88.6" text-anchor="middle">200</text>
<text x="899.7" y="88.6" text-anchor="middle">250</text>
<text x="285.30" y="28.6" textLength="534.95" lengthAdjust="spacing">Time from the discovery [days]</text>
<text x="434.18" y="1550.6" textLength="236.89" lengthAdjust="spacing">JD - 2450000</text>
<g transform="translate(29,869.4) rotate(-90)"><text x="-3.28" y="0" textLength="184.46" lengthAdjust="spacing">Magnitude</text></g>
<text x="118.5" y="166.6">(a)</text>
</g>
<path d="M230.0 684.0L433.4 852.3M418.0 830.2L433.4 852.3L408.8 841.3" fill="none" stroke="#8793a1" stroke-width="3.0" stroke-linejoin="bevel" stroke-linecap="butt"/>
<path d="M218.70 652.90 L212.04 648.06 L214.59 640.24 L222.81 640.24 L225.36 648.06Z" fill="none" stroke="#000" stroke-width="2.5" stroke-linejoin="miter"/>
<path d="M295.0 645.0L226.7 645.0M245.7 650.5L226.7 645.0L245.7 639.5" fill="none" stroke="#000" stroke-width="1.4" stroke-linejoin="miter" stroke-linecap="butt"/>
<path d="M208.90 1030.20 L202.24 1025.36 L204.79 1017.54 L213.01 1017.54 L215.56 1025.36Z" fill="none" stroke="#000" stroke-width="2.5" stroke-linejoin="miter"/>
<path d="M241.0 927.0L215.2 1011.0M229.0 989.0L215.2 1011.0L216.1 985.0" fill="none" stroke="#000" stroke-width="1.4" stroke-linejoin="miter" stroke-linecap="butt"/>
<path d="M108.4 1228.8H211.4" stroke="#009e73" stroke-width="3.2" stroke-dasharray="12.1 6.1" fill="none"/>
<g font-size="40">
<text x="267.3" y="362.7">I</text>
<text x="267.4" y="554.8">V</text>
<text x="306.92" y="660.4" textLength="173.36" lengthAdjust="spacing">Discovery</text>
<text x="307.62" y="704.4" textLength="233.78" lengthAdjust="spacing">by Nakamura</text>
<text x="211.97" y="1243.8" textLength="110.07" lengthAdjust="spacing" style="fill:#009e73" font-size="39.4">PS1-g</text>
<text x="212.42" y="1287.9" textLength="203.86" lengthAdjust="spacing" style="fill:#009e73">(Quiescent)</text>
</g>
<g font-size="34.5">
<text x="172.97" y="844.2" textLength="210.10" lengthAdjust="spacing">Pre-discovery</text>
<text x="173.0" y="882.5">Detection</text>
<text x="173.4" y="920.5">by NMW</text>
</g>
<rect x="463.1" y="874.1" width="477.5" height="478.19999999999993" fill="#fff" stroke="none"/>
<path d="M551.2 874.1V1352.3" stroke="#8793a1" stroke-width="3.2" stroke-dasharray="3.1 4.28" stroke-dashoffset="1.45" fill="none"/>
<path d="M590.3 874.1V1253.0" stroke="#ff4500" stroke-width="3.2" stroke-dasharray="12 6.4" fill="none"/>
<path d="M645.8 874.1V1253.0" stroke="#f5a300" stroke-width="3.2" stroke-dasharray="12 6.4" fill="none"/>
<path d="M686.4 874.1V1253.0" stroke="#009e73" stroke-width="2.6" stroke-dasharray="12 6.4" fill="none"/>
<path d="M764.0 874.1V1253.0" stroke="#000" stroke-width="3.2" stroke-dasharray="12 6.4" fill="none"/>
<path d="M836.7 874.1V1253.0" stroke="#4fc3f7" stroke-width="4.8" stroke-dasharray="12 6.4" fill="none"/>
<path d="M877.1 874.1V1253.0" stroke="#0055ff" stroke-width="3.0" stroke-dasharray="12 6.4" fill="none"/>
<g stroke="#000" stroke-width="1.4" fill="none" stroke-linecap="butt">
<path d="M463.1 993.6h13M940.6 993.6h-13"/>
<path d="M463.1 1113.2h13M940.6 1113.2h-13"/>
<path d="M463.1 1232.8h13M940.6 1232.8h-13"/>
<path d="M558.6 1352.3v-13"/>
<path d="M654.1 1352.3v-13"/>
<path d="M749.6 1352.3v-13"/>
<path d="M845.1 1352.3v-13"/>
<path d="M471.6 874.1v13.3"/>
<path d="M551.2 874.1v13.3"/>
<path d="M630.8 874.1v13.3"/>
<path d="M710.4 874.1v13.3"/>
<path d="M789.9 874.1v13.3"/>
<path d="M869.5 874.1v13.3"/>
</g>
<clipPath id="ic"><rect x="463.1" y="874.1" width="477.5" height="478.19999999999993"/></clipPath>
<g>
<use href="#g" x="593.2" y="1167.0"/><use href="#g" x="593.1" y="1171.0"/><use href="#g" x="593.0" y="1176.0"/><use href="#g" x="592.8" y="1181.0"/><use href="#g" x="592.6" y="1186.0"/><use href="#g" x="592.0" y="1191.0"/><use href="#g" x="591.2" y="1196.0"/><use href="#g" x="590.4" y="1200.0"/><use href="#g" x="589.3" y="1205.0"/><use href="#g" x="588.0" y="1210.0"/><use href="#g" x="587.3" y="1215.0"/><use href="#g" x="587.3" y="1220.0"/><use href="#g" x="587.5" y="1226.3"/><use href="#g" x="653.2" y="1098.4"/><use href="#g" x="653.2" y="1105.6"/><use href="#g" x="714.7" y="1050.3"/><use href="#g" x="714.7" y="1060.0"/><use href="#g" x="713.0" y="1071.0"/><use href="#g" x="702.7" y="1068.0"/><use href="#g" x="686.0" y="1069.5"/><use href="#g" x="679.6" y="1077.5"/><use href="#g" x="674.8" y="1090.0"/><use href="#g" x="700.3" y="1088.7"/><use href="#g" x="690.7" y="1084.0"/><use href="#g" x="697.5" y="1091.0"/><use href="#g" x="684.0" y="1090.0"/><use href="#g" x="708.0" y="1062.0"/><use href="#g" x="694.0" y="1076.0"/><use href="#g" x="780.8" y="1054.3"/><use href="#g" x="775.5" y="1082.0"/><use href="#g" x="788.0" y="1079.0"/><use href="#g" x="811.2" y="1066.4"/><use href="#g" x="810.4" y="1076.8"/><use href="#g" x="796.0" y="1076.8"/><use href="#g" x="786.4" y="1080.0"/><use href="#g" x="788.8" y="1084.8"/><use href="#g" x="780.0" y="1088.0"/><use href="#g" x="808.8" y="1084.8"/><use href="#g" x="816.8" y="1091.0"/><use href="#g" x="829.5" y="1095.0"/><use href="#g" x="834.3" y="1112.7"/><use href="#g" x="806.4" y="1124.4"/><use href="#g" x="802.0" y="1078.0"/><use href="#g" x="871.0" y="1091.0"/><use href="#g" x="870.3" y="1102.3"/><use href="#g" x="872.7" y="1108.7"/><use href="#g" x="877.5" y="1096.0"/><use href="#g" x="880.0" y="1107.0"/><use href="#g" x="880.7" y="1120.0"/><use href="#g" x="893.5" y="1103.0"/><use href="#g" x="905.5" y="1072.8"/><use href="#g" x="903.0" y="1082.4"/><use href="#g" x="912.7" y="1088.8"/><use href="#g" x="919.0" y="1091.0"/><use href="#g" x="935.9" y="1065.6"/><use href="#g" x="933.5" y="1075.2"/><use href="#g" x="932.7" y="1086.4"/>
<use href="#p" x="588.0" y="1127.5"/><use href="#p" x="653.2" y="985.6"/><use href="#p" x="674.4" y="1009.0"/><use href="#p" x="715.5" y="954.4"/><use href="#p" x="714.7" y="960.8"/><use href="#p" x="706.7" y="967.0"/><use href="#p" x="716.3" y="967.0"/><use href="#p" x="703.5" y="976.0"/><use href="#p" x="714.7" y="976.0"/><use href="#p" x="780.5" y="971.2"/><use href="#p" x="811.2" y="960.0"/><use href="#p" x="808.8" y="968.8"/><use href="#p" x="809.6" y="976.0"/><use href="#p" x="817.6" y="988.8"/><use href="#p" x="829.5" y="980.8"/><use href="#p" x="812.0" y="982.0"/><use href="#p" x="894.3" y="1001.5"/><use href="#p" x="894.3" y="1005.5"/><use href="#p" x="912.7" y="981.2"/><use href="#p" x="919.0" y="980.0"/><use href="#p" x="931.9" y="968.0"/><use href="#p" x="932.7" y="980.0"/><use href="#p" x="933.5" y="991.0"/><use href="#p" x="934.0" y="973.0"/><use href="#p" x="935.0" y="977.0"/><use href="#p" x="932.0" y="986.0"/>
</g>
<rect x="463.1" y="874.1" width="477.5" height="478.19999999999993" stroke="#000" stroke-width="1.4" fill="none"/>
<g font-size="40">
<text x="447.0" y="889.4" text-anchor="end">6</text>
<text x="447.0" y="1008.9" text-anchor="end">7</text>
<text x="447.0" y="1128.5" text-anchor="end">8</text>
<text x="447.0" y="1248.0" text-anchor="end">9</text>
<text x="447.0" y="1367.6" text-anchor="end">10</text>
<text x="557.0" y="855.6" text-anchor="middle">0</text>
<text x="636.6" y="855.6" text-anchor="middle">20</text>
<text x="716.2" y="855.6" text-anchor="middle">40</text>
<text x="795.7" y="855.6" text-anchor="middle">60</text>
<text x="875.3" y="855.6" text-anchor="middle">80</text>
<text x="442.5" y="855.6">-20</text>
<text x="426.60" y="795.0" textLength="550.15" lengthAdjust="spacing">Time from the discovery [hours]</text>
<text x="472.5" y="932.8">(b)</text>
<text x="730.3" y="942.0">I</text>
<text x="727.3" y="1127.6">V</text>
<text x="700.32" y="1283.1" textLength="172.86" lengthAdjust="spacing">Discovery</text>
<text x="701.02" y="1327.0" textLength="232.78" lengthAdjust="spacing">by Nakamura</text>
</g>
<g font-size="35">
<text x="468.1" y="1398.8" text-anchor="middle">9291</text>
<text x="563.6" y="1398.8" text-anchor="middle">9292</text>
<text x="659.1" y="1398.8" text-anchor="middle">9293</text>
<text x="754.6" y="1398.8" text-anchor="middle">9294</text>
<text x="850.1" y="1398.8" text-anchor="middle">9295</text>
<text x="945.6" y="1398.8" text-anchor="middle">9296</text>
</g>
<path d="M551.20 1311.70 L544.54 1306.86 L547.09 1299.04 L555.31 1299.04 L557.86 1306.86Z" fill="none" stroke="#000" stroke-width="2.5" stroke-linejoin="miter"/>
<path d="M692.0 1304.7L560.2 1304.7M585.7 1311.4L560.2 1304.7L585.7 1298.0" fill="none" stroke="#000" stroke-width="1.4" stroke-linejoin="miter" stroke-linecap="butt"/>
</svg></body></html>
